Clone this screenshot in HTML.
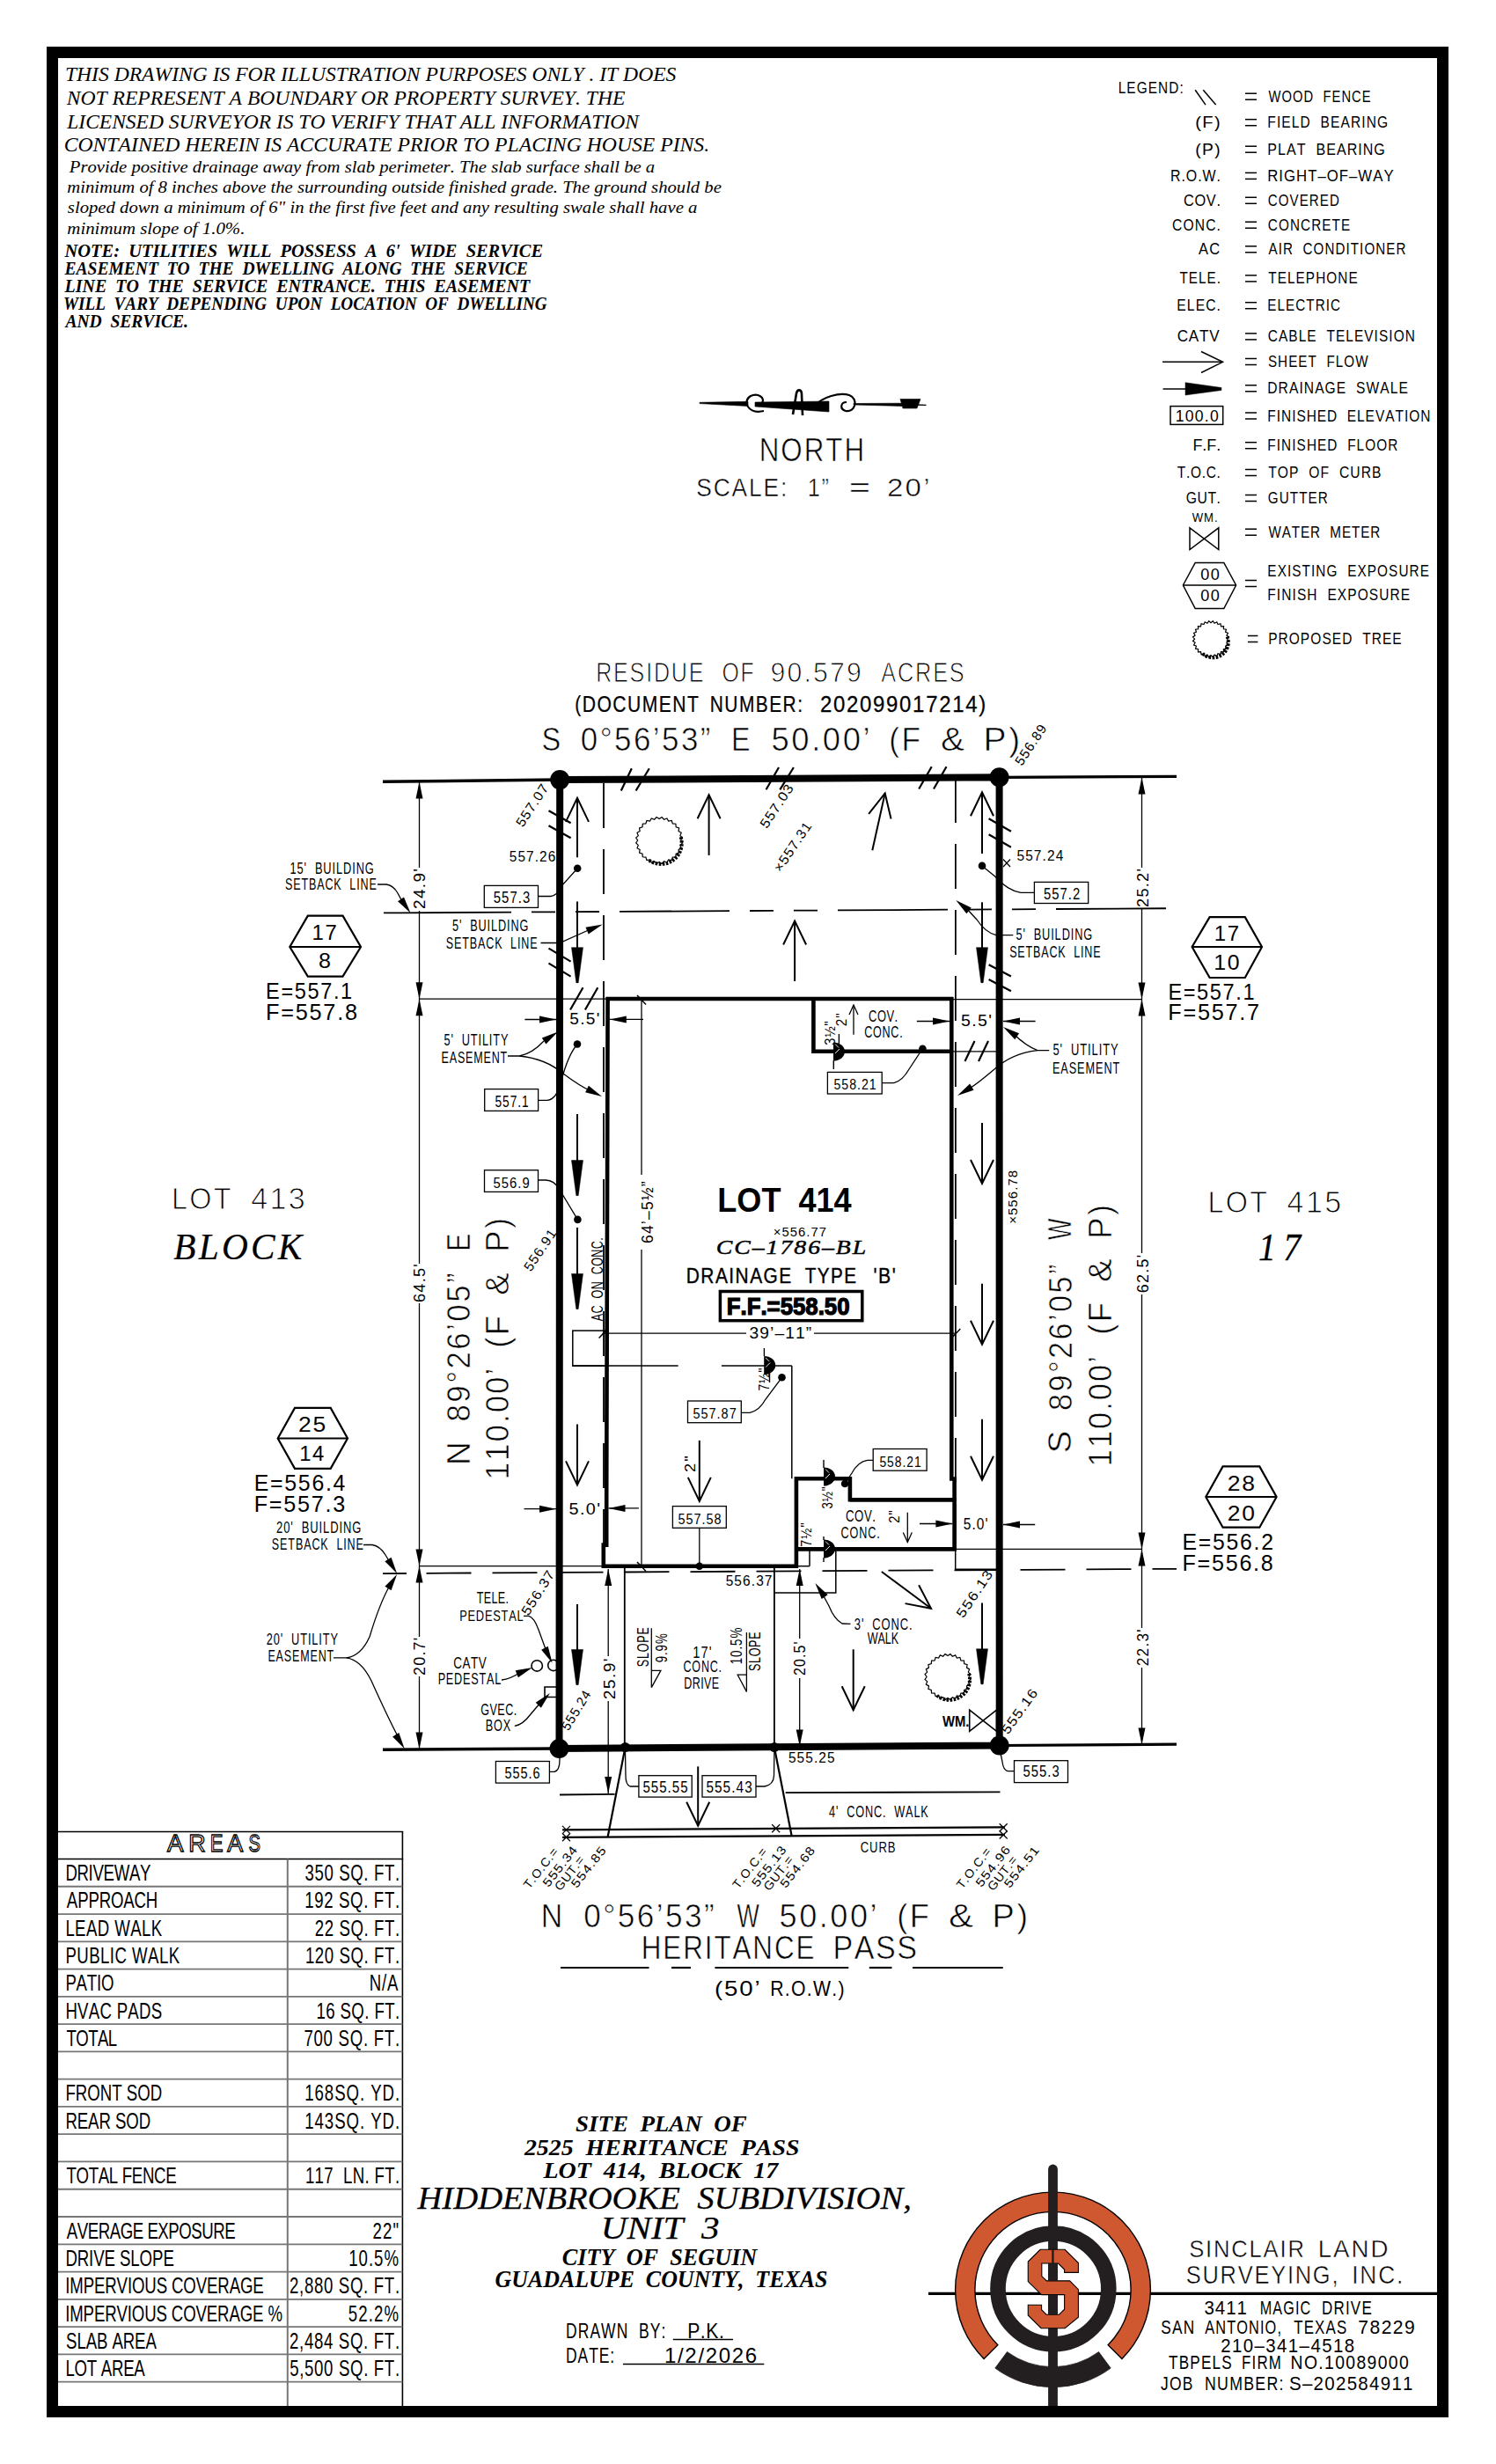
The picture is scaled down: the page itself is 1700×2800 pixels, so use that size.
<!DOCTYPE html>
<html><head><meta charset="utf-8"><title>Site Plan</title>
<style>html,body{margin:0;padding:0;background:#fff;}svg{display:block;}</style>
</head><body>
<svg width="1700" height="2800" viewBox="0 0 1700 2800" stroke-linecap="butt" style="white-space:pre">
<rect x="0" y="0" width="1700" height="2800" fill="#fff"/>
<rect x="59.50" y="59.50" width="1580.00" height="2681.00" stroke="#000" stroke-width="13.00" fill="none"/>
<text x="73.96" y="91.60" font-size="22.90" textLength="694.42" lengthAdjust="spacingAndGlyphs" style='font-family:"Liberation Serif", serif;font-kerning:none;font-style:italic;' fill="#000" >THIS&#160;DRAWING&#160;IS&#160;FOR&#160;ILLUSTRATION&#160;PURPOSES&#160;ONLY&#160;.&#160;IT&#160;DOES</text>
<text x="75.67" y="118.80" font-size="22.90" textLength="634.72" lengthAdjust="spacingAndGlyphs" style='font-family:"Liberation Serif", serif;font-kerning:none;font-style:italic;' fill="#000" >NOT&#160;REPRESENT&#160;A&#160;BOUNDARY&#160;OR&#160;PROPERTY&#160;SURVEY.&#160;THE</text>
<text x="76.28" y="146.10" font-size="22.90" textLength="649.62" lengthAdjust="spacingAndGlyphs" style='font-family:"Liberation Serif", serif;font-kerning:none;font-style:italic;' fill="#000" >LICENSED&#160;SURVEYOR&#160;IS&#160;TO&#160;VERIFY&#160;THAT&#160;ALL&#160;INFORMATION</text>
<text x="72.67" y="171.80" font-size="22.90" textLength="733.49" lengthAdjust="spacingAndGlyphs" style='font-family:"Liberation Serif", serif;font-kerning:none;font-style:italic;' fill="#000" >CONTAINED&#160;HEREIN&#160;IS&#160;ACCURATE&#160;PRIOR&#160;TO&#160;PLACING&#160;HOUSE&#160;PINS.</text>
<text x="78.80" y="195.70" font-size="19.08" textLength="665.38" lengthAdjust="spacingAndGlyphs" style='font-family:"Liberation Serif", serif;font-kerning:none;font-style:italic;' fill="#000" >Provide&#160;positive&#160;drainage&#160;away&#160;from&#160;slab&#160;perimeter.&#160;The&#160;slab&#160;surface&#160;shall&#160;be&#160;a</text>
<text x="76.35" y="219.20" font-size="19.08" textLength="743.53" lengthAdjust="spacingAndGlyphs" style='font-family:"Liberation Serif", serif;font-kerning:none;font-style:italic;' fill="#000" >minimum&#160;of&#160;8&#160;inches&#160;above&#160;the&#160;surrounding&#160;outside&#160;finished&#160;grade.&#160;The&#160;ground&#160;should&#160;be</text>
<text x="76.85" y="242.20" font-size="19.08" textLength="715.55" lengthAdjust="spacingAndGlyphs" style='font-family:"Liberation Serif", serif;font-kerning:none;font-style:italic;' fill="#000" >sloped&#160;down&#160;a&#160;minimum&#160;of&#160;6"&#160;in&#160;the&#160;first&#160;five&#160;feet&#160;and&#160;any&#160;resulting&#160;swale&#160;shall&#160;have&#160;a</text>
<text x="76.35" y="266.30" font-size="19.08" textLength="202.12" lengthAdjust="spacingAndGlyphs" style='font-family:"Liberation Serif", serif;font-kerning:none;font-style:italic;' fill="#000" >minimum&#160;slope&#160;of&#160;1.0%.</text>
<text x="73.59" y="292.40" font-size="20.61" textLength="543.44" lengthAdjust="spacingAndGlyphs" style='font-family:"Liberation Serif", serif;font-kerning:none;font-style:italic;font-weight:bold;' fill="#000" >NOTE:&#160;&#160;UTILITIES&#160;&#160;WILL&#160;&#160;POSSESS&#160;&#160;A&#160;&#160;6'&#160;&#160;WIDE&#160;&#160;SERVICE</text>
<text x="73.54" y="312.30" font-size="20.61" textLength="526.34" lengthAdjust="spacingAndGlyphs" style='font-family:"Liberation Serif", serif;font-kerning:none;font-style:italic;font-weight:bold;' fill="#000" >EASEMENT&#160;&#160;TO&#160;&#160;THE&#160;&#160;DWELLING&#160;&#160;ALONG&#160;&#160;THE&#160;&#160;SERVICE</text>
<text x="73.54" y="332.20" font-size="20.61" textLength="528.59" lengthAdjust="spacingAndGlyphs" style='font-family:"Liberation Serif", serif;font-kerning:none;font-style:italic;font-weight:bold;' fill="#000" >LINE&#160;&#160;TO&#160;&#160;THE&#160;&#160;SERVICE&#160;&#160;ENTRANCE.&#160;&#160;THIS&#160;&#160;EASEMENT</text>
<text x="72.07" y="352.10" font-size="20.61" textLength="549.65" lengthAdjust="spacingAndGlyphs" style='font-family:"Liberation Serif", serif;font-kerning:none;font-style:italic;font-weight:bold;' fill="#000" >WILL&#160;&#160;VARY&#160;&#160;DEPENDING&#160;&#160;UPON&#160;&#160;LOCATION&#160;&#160;OF&#160;&#160;DWELLING</text>
<text x="74.42" y="372.00" font-size="20.61" textLength="139.54" lengthAdjust="spacingAndGlyphs" style='font-family:"Liberation Serif", serif;font-kerning:none;font-style:italic;font-weight:bold;' fill="#000" >AND&#160;&#160;SERVICE.</text>
<text x="-1.49" y="0" font-size="18.17" textLength="87.39" lengthAdjust="spacing" transform="translate(1272.00 106.00) scale(0.8463 1)" style='font-family:"Liberation Sans", sans-serif;font-kerning:none;' fill="#000" >LEGEND:</text>
<line x1="1415.00" y1="106.20" x2="1428.00" y2="106.20" stroke="#000" stroke-width="1.50" /><line x1="1415.00" y1="113.20" x2="1428.00" y2="113.20" stroke="#000" stroke-width="1.50" />
<text x="-0.07" y="0" font-size="18.60" textLength="146.35" lengthAdjust="spacing" transform="translate(1441.60 115.70) scale(0.7932 1)" style='font-family:"Liberation Sans", sans-serif;font-kerning:none;' fill="#000" >WOOD&#160;&#160;FENCE</text>
<line x1="1415.00" y1="135.70" x2="1428.00" y2="135.70" stroke="#000" stroke-width="1.50" /><line x1="1415.00" y1="142.70" x2="1428.00" y2="142.70" stroke="#000" stroke-width="1.50" />
<text x="-1.53" y="0" font-size="18.60" textLength="163.73" lengthAdjust="spacing" transform="translate(1441.60 145.20) scale(0.8351 1)" style='font-family:"Liberation Sans", sans-serif;font-kerning:none;' fill="#000" >FIELD&#160;&#160;BEARING</text>
<text x="-1.15" y="0" font-size="18.60" textLength="26.36" lengthAdjust="spacing" transform="translate(1359.50 145.20) scale(1.0808 1)" style='font-family:"Liberation Sans", sans-serif;font-kerning:none;' fill="#000" >(F)</text>
<line x1="1415.00" y1="166.20" x2="1428.00" y2="166.20" stroke="#000" stroke-width="1.50" /><line x1="1415.00" y1="173.20" x2="1428.00" y2="173.20" stroke="#000" stroke-width="1.50" />
<text x="-1.53" y="0" font-size="18.60" textLength="154.52" lengthAdjust="spacing" transform="translate(1441.60 175.70) scale(0.8647 1)" style='font-family:"Liberation Sans", sans-serif;font-kerning:none;' fill="#000" >PLAT&#160;&#160;BEARING</text>
<text x="-1.15" y="0" font-size="18.60" textLength="27.41" lengthAdjust="spacing" transform="translate(1359.50 175.70) scale(1.0360 1)" style='font-family:"Liberation Sans", sans-serif;font-kerning:none;' fill="#000" >(P)</text>
<line x1="1415.00" y1="196.40" x2="1428.00" y2="196.40" stroke="#000" stroke-width="1.50" /><line x1="1415.00" y1="203.40" x2="1428.00" y2="203.40" stroke="#000" stroke-width="1.50" />
<text x="-1.53" y="0" font-size="18.60" textLength="159.04" lengthAdjust="spacing" transform="translate(1441.60 205.90) scale(0.9014 1)" style='font-family:"Liberation Sans", sans-serif;font-kerning:none;' fill="#000" >RIGHT–OF–WAY</text>
<text x="-1.53" y="0" font-size="18.60" textLength="66.46" lengthAdjust="spacing" transform="translate(1331.30 205.90) scale(0.8571 1)" style='font-family:"Liberation Sans", sans-serif;font-kerning:none;' fill="#000" >R.O.W.</text>
<line x1="1415.00" y1="224.30" x2="1428.00" y2="224.30" stroke="#000" stroke-width="1.50" /><line x1="1415.00" y1="231.30" x2="1428.00" y2="231.30" stroke="#000" stroke-width="1.50" />
<text x="-0.95" y="0" font-size="18.60" textLength="99.82" lengthAdjust="spacing" transform="translate(1441.60 233.80) scale(0.8115 1)" style='font-family:"Liberation Sans", sans-serif;font-kerning:none;' fill="#000" >COVERED</text>
<text x="-0.95" y="0" font-size="18.60" textLength="47.68" lengthAdjust="spacing" transform="translate(1345.90 233.80) scale(0.8792 1)" style='font-family:"Liberation Sans", sans-serif;font-kerning:none;' fill="#000" >COV.</text>
<line x1="1415.00" y1="252.20" x2="1428.00" y2="252.20" stroke="#000" stroke-width="1.50" /><line x1="1415.00" y1="259.20" x2="1428.00" y2="259.20" stroke="#000" stroke-width="1.50" />
<text x="-0.95" y="0" font-size="18.60" textLength="113.51" lengthAdjust="spacing" transform="translate(1441.60 261.70) scale(0.8232 1)" style='font-family:"Liberation Sans", sans-serif;font-kerning:none;' fill="#000" >CONCRETE</text>
<text x="-0.95" y="0" font-size="18.60" textLength="65.16" lengthAdjust="spacing" transform="translate(1332.90 261.70) scale(0.8414 1)" style='font-family:"Liberation Sans", sans-serif;font-kerning:none;' fill="#000" >CONC.</text>
<line x1="1415.00" y1="279.80" x2="1428.00" y2="279.80" stroke="#000" stroke-width="1.50" /><line x1="1415.00" y1="286.80" x2="1428.00" y2="286.80" stroke="#000" stroke-width="1.50" />
<text x="-0.04" y="0" font-size="18.60" textLength="191.12" lengthAdjust="spacing" transform="translate(1441.60 289.30) scale(0.8153 1)" style='font-family:"Liberation Sans", sans-serif;font-kerning:none;' fill="#000" >AIR&#160;&#160;CONDITIONER</text>
<text x="-0.04" y="0" font-size="18.60" textLength="27.15" lengthAdjust="spacing" transform="translate(1362.10 289.30) scale(0.8864 1)" style='font-family:"Liberation Sans", sans-serif;font-kerning:none;' fill="#000" >AC</text>
<line x1="1415.00" y1="312.90" x2="1428.00" y2="312.90" stroke="#000" stroke-width="1.50" /><line x1="1415.00" y1="319.90" x2="1428.00" y2="319.90" stroke="#000" stroke-width="1.50" />
<text x="-0.41" y="0" font-size="18.60" textLength="123.11" lengthAdjust="spacing" transform="translate(1441.60 322.40) scale(0.8236 1)" style='font-family:"Liberation Sans", sans-serif;font-kerning:none;' fill="#000" >TELEPHONE</text>
<text x="-0.41" y="0" font-size="18.60" textLength="56.91" lengthAdjust="spacing" transform="translate(1340.70 322.40) scale(0.8174 1)" style='font-family:"Liberation Sans", sans-serif;font-kerning:none;' fill="#000" >TELE.</text>
<line x1="1415.00" y1="343.70" x2="1428.00" y2="343.70" stroke="#000" stroke-width="1.50" /><line x1="1415.00" y1="350.70" x2="1428.00" y2="350.70" stroke="#000" stroke-width="1.50" />
<text x="-1.53" y="0" font-size="18.60" textLength="101.12" lengthAdjust="spacing" transform="translate(1441.60 353.20) scale(0.8171 1)" style='font-family:"Liberation Sans", sans-serif;font-kerning:none;' fill="#000" >ELECTRIC</text>
<text x="-1.53" y="0" font-size="18.60" textLength="58.98" lengthAdjust="spacing" transform="translate(1338.60 353.20) scale(0.8411 1)" style='font-family:"Liberation Sans", sans-serif;font-kerning:none;' fill="#000" >ELEC.</text>
<line x1="1415.00" y1="378.90" x2="1428.00" y2="378.90" stroke="#000" stroke-width="1.50" /><line x1="1415.00" y1="385.90" x2="1428.00" y2="385.90" stroke="#000" stroke-width="1.50" />
<text x="-0.95" y="0" font-size="18.60" textLength="201.44" lengthAdjust="spacing" transform="translate(1441.60 388.40) scale(0.8292 1)" style='font-family:"Liberation Sans", sans-serif;font-kerning:none;' fill="#000" >CABLE&#160;&#160;TELEVISION</text>
<text x="-0.95" y="0" font-size="18.60" textLength="52.15" lengthAdjust="spacing" transform="translate(1338.60 388.40) scale(0.9177 1)" style='font-family:"Liberation Sans", sans-serif;font-kerning:none;' fill="#000" >CATV</text>
<line x1="1415.00" y1="407.50" x2="1428.00" y2="407.50" stroke="#000" stroke-width="1.50" /><line x1="1415.00" y1="414.50" x2="1428.00" y2="414.50" stroke="#000" stroke-width="1.50" />
<text x="-0.84" y="0" font-size="18.60" textLength="138.80" lengthAdjust="spacing" transform="translate(1441.60 417.00) scale(0.8188 1)" style='font-family:"Liberation Sans", sans-serif;font-kerning:none;' fill="#000" >SHEET&#160;&#160;FLOW</text>
<line x1="1415.00" y1="437.80" x2="1428.00" y2="437.80" stroke="#000" stroke-width="1.50" /><line x1="1415.00" y1="444.80" x2="1428.00" y2="444.80" stroke="#000" stroke-width="1.50" />
<text x="-1.53" y="0" font-size="18.60" textLength="190.19" lengthAdjust="spacing" transform="translate(1441.60 447.30) scale(0.8394 1)" style='font-family:"Liberation Sans", sans-serif;font-kerning:none;' fill="#000" >DRAINAGE&#160;&#160;SWALE</text>
<line x1="1415.00" y1="469.00" x2="1428.00" y2="469.00" stroke="#000" stroke-width="1.50" /><line x1="1415.00" y1="476.00" x2="1428.00" y2="476.00" stroke="#000" stroke-width="1.50" />
<text x="-1.53" y="0" font-size="18.60" textLength="222.27" lengthAdjust="spacing" transform="translate(1441.60 478.50) scale(0.8324 1)" style='font-family:"Liberation Sans", sans-serif;font-kerning:none;' fill="#000" >FINISHED&#160;&#160;ELEVATION</text>
<line x1="1415.00" y1="502.70" x2="1428.00" y2="502.70" stroke="#000" stroke-width="1.50" /><line x1="1415.00" y1="509.70" x2="1428.00" y2="509.70" stroke="#000" stroke-width="1.50" />
<text x="-1.53" y="0" font-size="18.60" textLength="179.49" lengthAdjust="spacing" transform="translate(1441.60 512.20) scale(0.8244 1)" style='font-family:"Liberation Sans", sans-serif;font-kerning:none;' fill="#000" >FINISHED&#160;&#160;FLOOR</text>
<text x="-1.53" y="0" font-size="18.60" textLength="32.85" lengthAdjust="spacing" transform="translate(1356.90 512.20) scale(0.9650 1)" style='font-family:"Liberation Sans", sans-serif;font-kerning:none;' fill="#000" >F.F.</text>
<line x1="1415.00" y1="533.50" x2="1428.00" y2="533.50" stroke="#000" stroke-width="1.50" /><line x1="1415.00" y1="540.50" x2="1428.00" y2="540.50" stroke="#000" stroke-width="1.50" />
<text x="-0.41" y="0" font-size="18.60" textLength="152.43" lengthAdjust="spacing" transform="translate(1441.60 543.00) scale(0.8409 1)" style='font-family:"Liberation Sans", sans-serif;font-kerning:none;' fill="#000" >TOP&#160;&#160;OF&#160;&#160;CURB</text>
<text x="-0.41" y="0" font-size="18.60" textLength="59.23" lengthAdjust="spacing" transform="translate(1338.10 543.00) scale(0.8296 1)" style='font-family:"Liberation Sans", sans-serif;font-kerning:none;' fill="#000" >T.O.C.</text>
<line x1="1415.00" y1="562.50" x2="1428.00" y2="562.50" stroke="#000" stroke-width="1.50" /><line x1="1415.00" y1="569.50" x2="1428.00" y2="569.50" stroke="#000" stroke-width="1.50" />
<text x="-0.93" y="0" font-size="18.60" textLength="82.99" lengthAdjust="spacing" transform="translate(1441.60 572.00) scale(0.8189 1)" style='font-family:"Liberation Sans", sans-serif;font-kerning:none;' fill="#000" >GUTTER</text>
<text x="-0.93" y="0" font-size="18.60" textLength="46.29" lengthAdjust="spacing" transform="translate(1348.50 572.00) scale(0.8474 1)" style='font-family:"Liberation Sans", sans-serif;font-kerning:none;' fill="#000" >GUT.</text>
<line x1="1415.00" y1="601.20" x2="1428.00" y2="601.20" stroke="#000" stroke-width="1.50" /><line x1="1415.00" y1="608.20" x2="1428.00" y2="608.20" stroke="#000" stroke-width="1.50" />
<text x="-0.07" y="0" font-size="18.60" textLength="154.89" lengthAdjust="spacing" transform="translate(1441.60 610.70) scale(0.8178 1)" style='font-family:"Liberation Sans", sans-serif;font-kerning:none;' fill="#000" >WATER&#160;&#160;METER</text>
<line x1="1358.20" y1="102.20" x2="1370.00" y2="119.10" stroke="#000" stroke-width="1.50" />
<line x1="1367.30" y1="102.20" x2="1381.60" y2="119.10" stroke="#000" stroke-width="1.50" />
<line x1="1321.00" y1="411.30" x2="1389.50" y2="411.30" stroke="#000" stroke-width="1.50" />
<path d="M1365.00 399.50 L1389.50 411.30 L1365.00 423.50" stroke="#000" stroke-width="1.50" fill="none" stroke-linejoin="miter" />
<line x1="1321.60" y1="442.00" x2="1388.00" y2="442.00" stroke="#000" stroke-width="1.50" />
<path d="M1347.00 434.70 L1388.00 440.50 L1388.00 443.50 L1347.00 449.00 Z" stroke="#000" stroke-width="0.50" fill="#000" stroke-linejoin="miter" />
<rect x="1330.00" y="461.60" width="59.70" height="20.80" stroke="#000" stroke-width="1.50" fill="none"/>
<text x="-1.38" y="0" font-size="18.17" textLength="50.55" lengthAdjust="spacing" transform="translate(1337.00 478.50) scale(0.9700 1)" style='font-family:"Liberation Sans", sans-serif;font-kerning:none;' fill="#000" >100.0</text>
<text x="-0.06" y="0" font-size="15.12" textLength="33.18" lengthAdjust="spacing" transform="translate(1354.80 592.50) scale(0.8695 1)" style='font-family:"Liberation Sans", sans-serif;font-kerning:none;' fill="#000" >WM.</text>
<path d="M1352.00 599.80 L1384.80 624.50 L1384.80 599.80 L1352.00 624.50 Z" stroke="#000" stroke-width="1.50" fill="none" stroke-linejoin="miter" />
<path d="M1344.40 665.00 L1358.20 639.40 L1390.80 639.40 L1404.60 665.00 L1390.80 691.50 L1358.20 691.50 Z" stroke="#000" stroke-width="1.50" fill="none" stroke-linejoin="miter" />
<line x1="1344.40" y1="665.00" x2="1404.60" y2="665.00" stroke="#000" stroke-width="1.50" />
<text x="-0.71" y="0" font-size="18.17" textLength="21.48" lengthAdjust="spacing" transform="translate(1365.00 659.00) scale(0.9971 1)" style='font-family:"Liberation Sans", sans-serif;font-kerning:none;' fill="#000" >00</text>
<text x="-0.71" y="0" font-size="18.17" textLength="21.48" lengthAdjust="spacing" transform="translate(1365.00 683.20) scale(0.9971 1)" style='font-family:"Liberation Sans", sans-serif;font-kerning:none;' fill="#000" >00</text>
<line x1="1415.00" y1="659.50" x2="1428.00" y2="659.50" stroke="#000" stroke-width="1.50" /><line x1="1415.00" y1="666.50" x2="1428.00" y2="666.50" stroke="#000" stroke-width="1.50" />
<text x="-1.53" y="0" font-size="18.60" textLength="222.70" lengthAdjust="spacing" transform="translate(1441.60 655.00) scale(0.8245 1)" style='font-family:"Liberation Sans", sans-serif;font-kerning:none;' fill="#000" >EXISTING&#160;&#160;EXPOSURE</text>
<text x="-1.53" y="0" font-size="18.60" textLength="194.25" lengthAdjust="spacing" transform="translate(1441.60 681.60) scale(0.8326 1)" style='font-family:"Liberation Sans", sans-serif;font-kerning:none;' fill="#000" >FINISH&#160;&#160;EXPOSURE</text>
<line x1="1418.00" y1="722.50" x2="1429.40" y2="722.50" stroke="#000" stroke-width="1.50" /><line x1="1418.00" y1="729.50" x2="1429.40" y2="729.50" stroke="#000" stroke-width="1.50" />
<text x="-1.53" y="0" font-size="18.60" textLength="182.00" lengthAdjust="spacing" transform="translate(1442.40 732.00) scale(0.8326 1)" style='font-family:"Liberation Sans", sans-serif;font-kerning:none;' fill="#000" >PROPOSED&#160;&#160;TREE</text>
<path d="M795.00 457.30 L850.00 456.30 L850.00 461.50 L795.00 458.60 Z" stroke="#000" stroke-width="0.60" fill="#000" stroke-linejoin="miter" />
<path d="M858.00 457.00 L942.00 456.00 L942.00 468.00 L858.00 462.00 Z" stroke="#000" stroke-width="0.60" fill="#000" stroke-linejoin="miter" />
<path d="M868 467 C850 471 843 456 853 450 C861 446 870 452 866 458" stroke="#000" stroke-width="2.20" fill="none" />
<path d="M901 471 L905 447 C906 442 911 442 911 448 L912 472" stroke="#000" stroke-width="2.60" fill="none" />
<path d="M924 463 C934 450 955 446 965 449 C976 453 972 469 961 467 C954 465 955 457 962 457" stroke="#000" stroke-width="2.20" fill="none" />
<path d="M970.00 458.50 L1025.00 458.20 L1025.00 461.50 L970.00 460.00 Z" stroke="#000" stroke-width="0.60" fill="#000" stroke-linejoin="miter" />
<path d="M1023.00 453.50 L1046.00 453.50 L1042.00 464.00 L1026.00 464.00 Z" stroke="#000" stroke-width="0.60" fill="#000" stroke-linejoin="miter" />
<line x1="1040.00" y1="460.00" x2="1052.50" y2="460.30" stroke="#000" stroke-width="1.30" />
<text x="-2.96" y="0" font-size="36.05" textLength="137.59" lengthAdjust="spacing" transform="translate(865.20 524.40) scale(0.8685 1)" style='font-family:"Liberation Sans", sans-serif;font-kerning:none;' fill="#000" stroke="#fff" stroke-width="0.62" >NORTH</text>
<text x="-1.35" y="0" font-size="30.09" textLength="117.56" lengthAdjust="spacing" transform="translate(792.50 564.40) scale(0.8761 1)" style='font-family:"Liberation Sans", sans-serif;font-kerning:none;' fill="#000" stroke="#fff" stroke-width="0.52" >SCALE:</text><text x="-2.29" y="0" font-size="30.09" textLength="28.86" lengthAdjust="spacing" transform="translate(919.70 564.40) scale(0.8407 1)" style='font-family:"Liberation Sans", sans-serif;font-kerning:none;' fill="#000" stroke="#fff" stroke-width="0.52" >1”</text><text x="964.75" y="564.40" font-size="30.09" textLength="24.39" lengthAdjust="spacingAndGlyphs" style='font-family:"Liberation Sans", sans-serif;font-kerning:none;' fill="#000" stroke="#fff" stroke-width="0.52" >=</text><text x="-1.50" y="0" font-size="30.09" textLength="44.36" lengthAdjust="spacing" transform="translate(1009.60 564.40) scale(1.0957 1)" style='font-family:"Liberation Sans", sans-serif;font-kerning:none;' fill="#000" stroke="#fff" stroke-width="0.52" >20’</text>
<text x="-2.50" y="0" font-size="30.52" textLength="148.51" lengthAdjust="spacing" transform="translate(679.20 775.10) scale(0.8246 1)" style='font-family:"Liberation Sans", sans-serif;font-kerning:none;' fill="#000" stroke="#fff" stroke-width="0.90" >RESIDUE</text><text x="-1.43" y="0" font-size="30.52" textLength="44.52" lengthAdjust="spacing" transform="translate(821.60 775.10) scale(0.8143 1)" style='font-family:"Liberation Sans", sans-serif;font-kerning:none;' fill="#000" stroke="#fff" stroke-width="0.90" >OF</text><text x="-1.43" y="0" font-size="30.52" textLength="104.04" lengthAdjust="spacing" transform="translate(877.00 775.10) scale(0.9916 1)" style='font-family:"Liberation Sans", sans-serif;font-kerning:none;' fill="#000" stroke="#fff" stroke-width="0.90" >90.579</text><text x="-0.06" y="0" font-size="30.52" textLength="113.71" lengthAdjust="spacing" transform="translate(1001.40 775.10) scale(0.8304 1)" style='font-family:"Liberation Sans", sans-serif;font-kerning:none;' fill="#000" stroke="#fff" stroke-width="0.90" >ACRES</text>
<text x="-1.62" y="0" font-size="26.16" textLength="174.52" lengthAdjust="spacing" transform="translate(654.50 808.80) scale(0.8067 1)" style='font-family:"Liberation Sans", sans-serif;font-kerning:none;' fill="#000" stroke="#000" stroke-width="0.25" >(DOCUMENT</text><text x="-2.15" y="0" font-size="26.16" textLength="131.63" lengthAdjust="spacing" transform="translate(808.50 808.80) scale(0.7992 1)" style='font-family:"Liberation Sans", sans-serif;font-kerning:none;' fill="#000" stroke="#000" stroke-width="0.25" >NUMBER:</text><text x="-1.31" y="0" font-size="26.16" textLength="205.30" lengthAdjust="spacing" transform="translate(933.20 808.80) scale(0.9166 1)" style='font-family:"Liberation Sans", sans-serif;font-kerning:none;' fill="#000" stroke="#000" stroke-width="0.25" >202099017214)</text>
<text x="615.54" y="853.30" font-size="36.34" textLength="21.65" lengthAdjust="spacingAndGlyphs" style='font-family:"Liberation Sans", sans-serif;font-kerning:none;' fill="#000" stroke="#fff" stroke-width="0.62" >S</text><text x="-1.42" y="0" font-size="36.34" textLength="153.56" lengthAdjust="spacing" transform="translate(661.20 853.30) scale(0.9609 1)" style='font-family:"Liberation Sans", sans-serif;font-kerning:none;' fill="#000" stroke="#fff" stroke-width="0.62" >0°56’53”</text><text x="830.95" y="853.30" font-size="36.34" textLength="21.54" lengthAdjust="spacingAndGlyphs" style='font-family:"Liberation Sans", sans-serif;font-kerning:none;' fill="#000" stroke="#fff" stroke-width="0.62" >E</text><text x="-1.45" y="0" font-size="36.34" textLength="111.72" lengthAdjust="spacing" transform="translate(878.00 853.30) scale(1.0028 1)" style='font-family:"Liberation Sans", sans-serif;font-kerning:none;' fill="#000" stroke="#fff" stroke-width="0.62" >50.00’</text><text x="-2.25" y="0" font-size="36.34" textLength="36.84" lengthAdjust="spacing" transform="translate(1012.40 853.30) scale(0.9686 1)" style='font-family:"Liberation Sans", sans-serif;font-kerning:none;' fill="#000" stroke="#fff" stroke-width="0.62" >(F</text><text x="1069.07" y="853.30" font-size="36.34" textLength="27.18" lengthAdjust="spacingAndGlyphs" style='font-family:"Liberation Sans", sans-serif;font-kerning:none;' fill="#000" stroke="#fff" stroke-width="0.62" >&amp;</text><text x="-2.98" y="0" font-size="36.34" textLength="38.88" lengthAdjust="spacing" transform="translate(1120.70 853.30) scale(1.0729 1)" style='font-family:"Liberation Sans", sans-serif;font-kerning:none;' fill="#000" stroke="#fff" stroke-width="0.62" >P)</text>
<line x1="435.00" y1="888.20" x2="636.20" y2="886.10" stroke="#000" stroke-width="3.50" />
<line x1="1135.60" y1="883.30" x2="1337.00" y2="882.40" stroke="#000" stroke-width="3.20" />
<line x1="435.00" y1="1988.20" x2="635.50" y2="1987.00" stroke="#000" stroke-width="3.50" />
<line x1="1135.70" y1="1983.50" x2="1337.00" y2="1982.20" stroke="#000" stroke-width="3.20" />
<line x1="436.00" y1="1037.40" x2="456.00" y2="1037.30" stroke="#000" stroke-width="1.80" />
<line x1="456.00" y1="1037.30" x2="1337.00" y2="1032.20" stroke="#000" stroke-width="1.80" stroke-dasharray="125 23 27 23 27 23"/>
<line x1="435.00" y1="1788.10" x2="462.00" y2="1788.00" stroke="#000" stroke-width="1.80" />
<line x1="484.50" y1="1787.80" x2="1337.00" y2="1782.80" stroke="#000" stroke-width="1.80" stroke-dasharray="51 24"/>
<line x1="686.00" y1="890.00" x2="686.00" y2="1785.00" stroke="#000" stroke-width="1.80" stroke-dasharray="51 24"/>
<line x1="1085.90" y1="887.00" x2="1085.90" y2="1760.00" stroke="#000" stroke-width="1.80" stroke-dasharray="51 24" stroke-dashoffset="3"/>
<path d="M690.60 1135.00 L1081.30 1135.00 L1081.30 1680.50 L1084.60 1680.50 L1084.60 1704.30 L965.90 1704.30 L965.90 1680.20 L904.90 1680.20 L904.90 1779.70 L685.80 1779.70 L685.80 1755.60 L689.20 1755.60 L689.20 1700.00 L690.60 1135.00 Z" stroke="#000" stroke-width="4.60" fill="none" stroke-linejoin="miter" />
<path d="M965.90 1704.30 L1084.60 1704.30 L1084.60 1760.40 L904.90 1760.40" stroke="#000" stroke-width="4.60" fill="none" stroke-linejoin="miter" />
<path d="M924.40 1135.00 L924.40 1194.80 L1081.30 1194.80" stroke="#000" stroke-width="4.60" fill="none" stroke-linejoin="miter" />
<line x1="650.80" y1="1552.10" x2="770.70" y2="1552.10" stroke="#000" stroke-width="1.50" />
<line x1="819.90" y1="1552.10" x2="899.80" y2="1552.10" stroke="#000" stroke-width="1.50" />
<line x1="899.80" y1="1552.10" x2="899.80" y2="1680.20" stroke="#000" stroke-width="1.50" />
<rect x="650.80" y="1512.10" width="39.80" height="40.00" stroke="#000" stroke-width="1.50" fill="none"/>
<line x1="729.00" y1="1135.00" x2="729.00" y2="1335.00" stroke="#000" stroke-width="1.30" />
<line x1="729.00" y1="1420.00" x2="729.00" y2="1779.70" stroke="#000" stroke-width="1.30" />
<line x1="724.00" y1="1131.00" x2="734.00" y2="1141.50" stroke="#000" stroke-width="1.50" />
<line x1="724.00" y1="1775.00" x2="734.00" y2="1785.40" stroke="#000" stroke-width="1.50" />
<text x="-0.93" y="0" font-size="18.17" textLength="73.29" lengthAdjust="spacing" transform="translate(742.00 1412.20) rotate(-90.00) scale(0.9652 1)" style='font-family:"Liberation Sans", sans-serif;font-kerning:none;' fill="#000" >64’–5½”</text>
<line x1="684.60" y1="1515.20" x2="848.00" y2="1515.20" stroke="#000" stroke-width="1.30" />
<line x1="925.00" y1="1515.20" x2="1085.50" y2="1515.20" stroke="#000" stroke-width="1.30" />
<line x1="680.60" y1="1520.50" x2="690.60" y2="1510.00" stroke="#000" stroke-width="1.50" />
<line x1="1081.30" y1="1520.50" x2="1091.30" y2="1510.00" stroke="#000" stroke-width="1.50" />
<text x="-0.69" y="0" font-size="18.17" textLength="66.89" lengthAdjust="spacing" transform="translate(852.20 1521.30) scale(1.0559 1)" style='font-family:"Liberation Sans", sans-serif;font-kerning:none;' fill="#000" >39’–11”</text>
<text x="-0.03" y="0" font-size="17.44" textLength="131.89" lengthAdjust="spacing" transform="translate(684.60 1501.30) rotate(-90.00) scale(0.7200 1)" style='font-family:"Liberation Sans", sans-serif;font-kerning:none;' fill="#000" >AC&#160;&#160;ON&#160;&#160;CONC.</text>
<line x1="920.00" y1="1760.40" x2="920.00" y2="1779.70" stroke="#000" stroke-width="1.50" />
<line x1="920.00" y1="1779.70" x2="904.90" y2="1779.70" stroke="#000" stroke-width="1.50" />
<path d="M949.80 1760.40 L949.80 1810.10 L879.90 1810.10" stroke="#000" stroke-width="1.50" fill="none" stroke-linejoin="miter" />
<path d="M1085.70 1760.40 L1085.70 1783.30 L1135.70 1783.30" stroke="#000" stroke-width="1.50" fill="none" stroke-linejoin="miter" />
<line x1="709.80" y1="1779.70" x2="709.80" y2="1985.50" stroke="#000" stroke-width="1.80" />
<line x1="879.90" y1="1779.70" x2="879.90" y2="1985.50" stroke="#000" stroke-width="1.80" />
<line x1="710.50" y1="1985.50" x2="690.50" y2="2088.00" stroke="#000" stroke-width="2.20" />
<line x1="879.90" y1="1985.50" x2="899.80" y2="2087.00" stroke="#000" stroke-width="2.20" />
<line x1="636.00" y1="2039.50" x2="698.60" y2="2038.80" stroke="#000" stroke-width="1.80" />
<line x1="892.70" y1="2037.20" x2="1136.50" y2="2036.30" stroke="#000" stroke-width="1.80" />
<line x1="639.10" y1="2079.30" x2="1141.80" y2="2076.30" stroke="#000" stroke-width="2.20" />
<line x1="639.10" y1="2087.80" x2="1141.80" y2="2084.80" stroke="#000" stroke-width="2.20" />
<line x1="639.00" y1="2074.90" x2="648.00" y2="2083.90" stroke="#000" stroke-width="1.30" />
<line x1="639.00" y1="2083.90" x2="648.00" y2="2074.90" stroke="#000" stroke-width="1.30" />
<line x1="639.00" y1="2083.30" x2="648.00" y2="2092.30" stroke="#000" stroke-width="1.30" />
<line x1="639.00" y1="2092.30" x2="648.00" y2="2083.30" stroke="#000" stroke-width="1.30" />
<line x1="877.20" y1="2073.30" x2="886.20" y2="2082.30" stroke="#000" stroke-width="1.30" />
<line x1="877.20" y1="2082.30" x2="886.20" y2="2073.30" stroke="#000" stroke-width="1.30" />
<line x1="1135.70" y1="2072.30" x2="1144.70" y2="2081.30" stroke="#000" stroke-width="1.30" />
<line x1="1135.70" y1="2081.30" x2="1144.70" y2="2072.30" stroke="#000" stroke-width="1.30" />
<line x1="1135.70" y1="2080.50" x2="1144.70" y2="2089.50" stroke="#000" stroke-width="1.30" />
<line x1="1135.70" y1="2089.50" x2="1144.70" y2="2080.50" stroke="#000" stroke-width="1.30" />
<line x1="476.50" y1="1135.20" x2="690.60" y2="1135.20" stroke="#000" stroke-width="1.30" />
<line x1="476.50" y1="1779.60" x2="685.80" y2="1779.60" stroke="#000" stroke-width="1.30" />
<line x1="1081.30" y1="1135.60" x2="1297.50" y2="1135.60" stroke="#000" stroke-width="1.30" />
<line x1="1084.60" y1="1760.40" x2="1297.50" y2="1760.40" stroke="#000" stroke-width="1.30" />
<line x1="1081.30" y1="1194.80" x2="1136.00" y2="1194.80" stroke="#000" stroke-width="1.30" />
<path d="M636.20 886.10 L1135.60 883.30 L1135.70 1983.50 L635.50 1987.00 Z" stroke="#000" stroke-width="8.00" fill="none" stroke-linejoin="miter" />
<circle cx="636.20" cy="886.10" r="11.00" fill="#000"/>
<circle cx="1135.60" cy="883.30" r="11.00" fill="#000"/>
<circle cx="635.50" cy="1987.00" r="11.00" fill="#000"/>
<circle cx="1135.70" cy="1983.50" r="11.00" fill="#000"/>
<line x1="705.80" y1="898.50" x2="717.80" y2="873.20" stroke="#000" stroke-width="2.20" />
<line x1="722.60" y1="898.50" x2="737.80" y2="873.20" stroke="#000" stroke-width="2.20" />
<line x1="870.60" y1="897.30" x2="885.00" y2="872.00" stroke="#000" stroke-width="2.20" />
<line x1="886.30" y1="897.30" x2="901.90" y2="872.00" stroke="#000" stroke-width="2.20" />
<line x1="1044.20" y1="896.50" x2="1058.70" y2="871.30" stroke="#000" stroke-width="2.20" />
<line x1="1061.00" y1="896.50" x2="1075.50" y2="871.30" stroke="#000" stroke-width="2.20" />
<line x1="648.00" y1="1147.50" x2="662.50" y2="1122.30" stroke="#000" stroke-width="2.20" />
<line x1="664.90" y1="1147.50" x2="679.30" y2="1122.30" stroke="#000" stroke-width="2.20" />
<line x1="1096.50" y1="1206.00" x2="1107.50" y2="1183.00" stroke="#000" stroke-width="2.20" />
<line x1="1112.00" y1="1206.00" x2="1123.00" y2="1183.00" stroke="#000" stroke-width="2.20" />
<line x1="623.50" y1="921.20" x2="648.60" y2="935.20" stroke="#000" stroke-width="2.20" />
<line x1="623.50" y1="938.20" x2="648.60" y2="952.20" stroke="#000" stroke-width="2.20" />
<line x1="623.50" y1="1077.60" x2="648.60" y2="1092.60" stroke="#000" stroke-width="2.20" />
<line x1="623.50" y1="1094.60" x2="648.60" y2="1109.60" stroke="#000" stroke-width="2.20" />
<line x1="1123.60" y1="930.20" x2="1148.90" y2="944.70" stroke="#000" stroke-width="2.20" />
<line x1="1123.60" y1="948.30" x2="1148.90" y2="962.70" stroke="#000" stroke-width="2.20" />
<line x1="1123.60" y1="1096.30" x2="1148.90" y2="1109.50" stroke="#000" stroke-width="2.20" />
<line x1="1123.60" y1="1113.10" x2="1148.90" y2="1126.30" stroke="#000" stroke-width="2.20" />
<line x1="476.50" y1="888.00" x2="476.50" y2="986.00" stroke="#000" stroke-width="1.30" />
<line x1="476.50" y1="1035.00" x2="476.50" y2="1436.00" stroke="#000" stroke-width="1.30" />
<line x1="476.50" y1="1481.00" x2="476.50" y2="1860.00" stroke="#000" stroke-width="1.30" />
<line x1="476.50" y1="1905.00" x2="476.50" y2="1988.00" stroke="#000" stroke-width="1.30" />
<path d="M476.50 888.50 L480.50 907.50 L472.50 907.50 Z" fill="#000"/>
<path d="M476.50 1135.20 L472.50 1116.20 L480.50 1116.20 Z" fill="#000"/>
<path d="M476.50 1135.20 L480.50 1154.20 L472.50 1154.20 Z" fill="#000"/>
<path d="M476.50 1779.60 L472.50 1760.60 L480.50 1760.60 Z" fill="#000"/>
<path d="M476.50 1779.60 L480.50 1798.60 L472.50 1798.60 Z" fill="#000"/>
<path d="M476.50 1987.50 L472.50 1968.50 L480.50 1968.50 Z" fill="#000"/>
<text x="-0.91" y="0" font-size="18.17" textLength="43.92" lengthAdjust="spacing" transform="translate(483.00 1032.00) rotate(-90.00) scale(1.0452 1)" style='font-family:"Liberation Sans", sans-serif;font-kerning:none;' fill="#000" >24.9'</text>
<text x="-0.93" y="0" font-size="18.17" textLength="43.92" lengthAdjust="spacing" transform="translate(483.00 1479.00) rotate(-90.00) scale(0.9934 1)" style='font-family:"Liberation Sans", sans-serif;font-kerning:none;' fill="#000" >64.5'</text>
<text x="-0.91" y="0" font-size="18.17" textLength="43.92" lengthAdjust="spacing" transform="translate(483.20 1903.10) rotate(-90.00) scale(0.9835 1)" style='font-family:"Liberation Sans", sans-serif;font-kerning:none;' fill="#000" >20.7'</text>
<line x1="1297.50" y1="883.00" x2="1297.50" y2="986.00" stroke="#000" stroke-width="1.30" />
<line x1="1297.50" y1="1033.00" x2="1297.50" y2="1424.00" stroke="#000" stroke-width="1.30" />
<line x1="1297.50" y1="1471.00" x2="1297.50" y2="1850.00" stroke="#000" stroke-width="1.30" />
<line x1="1297.50" y1="1895.00" x2="1297.50" y2="1982.50" stroke="#000" stroke-width="1.30" />
<path d="M1297.50 883.50 L1301.50 902.50 L1293.50 902.50 Z" fill="#000"/>
<path d="M1297.50 1135.60 L1293.50 1116.60 L1301.50 1116.60 Z" fill="#000"/>
<path d="M1297.50 1135.60 L1301.50 1154.60 L1293.50 1154.60 Z" fill="#000"/>
<path d="M1297.50 1760.40 L1293.50 1741.40 L1301.50 1741.40 Z" fill="#000"/>
<path d="M1297.50 1760.40 L1301.50 1779.40 L1293.50 1779.40 Z" fill="#000"/>
<path d="M1297.50 1982.50 L1293.50 1963.50 L1301.50 1963.50 Z" fill="#000"/>
<text x="-0.94" y="0" font-size="18.90" textLength="45.67" lengthAdjust="spacing" transform="translate(1304.60 1030.00) rotate(-90.00) scale(0.9593 1)" style='font-family:"Liberation Sans", sans-serif;font-kerning:none;' fill="#000" >25.2'</text>
<text x="-0.93" y="0" font-size="18.17" textLength="43.92" lengthAdjust="spacing" transform="translate(1304.60 1468.40) rotate(-90.00) scale(0.9910 1)" style='font-family:"Liberation Sans", sans-serif;font-kerning:none;' fill="#000" >62.5'</text>
<text x="-0.94" y="0" font-size="18.90" textLength="45.67" lengthAdjust="spacing" transform="translate(1305.00 1892.40) rotate(-90.00) scale(0.9159 1)" style='font-family:"Liberation Sans", sans-serif;font-kerning:none;' fill="#000" >22.3'</text>
<line x1="691.20" y1="1782.90" x2="691.20" y2="1882.00" stroke="#000" stroke-width="1.30" />
<line x1="691.20" y1="1933.00" x2="691.20" y2="2038.00" stroke="#000" stroke-width="1.30" />
<path d="M691.20 1782.90 L695.20 1801.90 L687.20 1801.90 Z" fill="#000"/>
<path d="M691.20 2038.00 L687.20 2019.00 L695.20 2019.00 Z" fill="#000"/>
<text x="-0.91" y="0" font-size="18.17" textLength="43.92" lengthAdjust="spacing" transform="translate(698.60 1930.40) rotate(-90.00) scale(1.0666 1)" style='font-family:"Liberation Sans", sans-serif;font-kerning:none;' fill="#000" >25.9'</text>
<line x1="908.70" y1="1782.90" x2="908.70" y2="1862.00" stroke="#000" stroke-width="1.30" />
<line x1="908.70" y1="1907.00" x2="908.70" y2="1985.00" stroke="#000" stroke-width="1.30" />
<path d="M908.70 1782.90 L912.70 1801.90 L904.70 1801.90 Z" fill="#000"/>
<path d="M908.70 1984.50 L904.70 1965.50 L912.70 1965.50 Z" fill="#000"/>
<text x="-0.91" y="0" font-size="18.17" textLength="43.92" lengthAdjust="spacing" transform="translate(915.20 1903.20) rotate(-90.00) scale(0.8766 1)" style='font-family:"Liberation Sans", sans-serif;font-kerning:none;' fill="#000" >20.5'</text>
<line x1="596.40" y1="1158.50" x2="632.00" y2="1158.50" stroke="#000" stroke-width="1.30" /><path d="M632.00 1158.50 L613.00 1162.50 L613.00 1154.50 Z" fill="#000"/>
<line x1="731.00" y1="1158.40" x2="692.80" y2="1158.40" stroke="#000" stroke-width="1.30" /><path d="M692.80 1158.40 L711.80 1154.40 L711.80 1162.40 Z" fill="#000"/>
<text x="-0.74" y="0" font-size="18.46" textLength="33.06" lengthAdjust="spacing" transform="translate(648.00 1164.40) scale(1.0351 1)" style='font-family:"Liberation Sans", sans-serif;font-kerning:none;' fill="#000" >5.5'</text>
<line x1="1041.80" y1="1160.50" x2="1079.00" y2="1160.50" stroke="#000" stroke-width="1.30" /><path d="M1079.00 1160.50 L1060.00 1164.50 L1060.00 1156.50 Z" fill="#000"/>
<line x1="1176.60" y1="1160.50" x2="1140.00" y2="1160.50" stroke="#000" stroke-width="1.30" /><path d="M1140.00 1160.50 L1159.00 1156.50 L1159.00 1164.50 Z" fill="#000"/>
<text x="-0.74" y="0" font-size="18.46" textLength="33.06" lengthAdjust="spacing" transform="translate(1092.80 1166.00) scale(1.0573 1)" style='font-family:"Liberation Sans", sans-serif;font-kerning:none;' fill="#000" >5.5'</text>
<line x1="595.50" y1="1714.70" x2="632.00" y2="1714.70" stroke="#000" stroke-width="1.30" /><path d="M632.00 1714.70 L613.00 1718.70 L613.00 1710.70 Z" fill="#000"/>
<line x1="725.90" y1="1713.90" x2="691.50" y2="1713.90" stroke="#000" stroke-width="1.30" /><path d="M691.50 1713.90 L710.50 1709.90 L710.50 1717.90 Z" fill="#000"/>
<text x="-0.74" y="0" font-size="18.46" textLength="33.06" lengthAdjust="spacing" transform="translate(647.30 1721.30) scale(1.0733 1)" style='font-family:"Liberation Sans", sans-serif;font-kerning:none;' fill="#000" >5.0'</text>
<line x1="1176.20" y1="1732.50" x2="1140.00" y2="1732.50" stroke="#000" stroke-width="1.30" /><path d="M1140.00 1732.50 L1159.00 1728.50 L1159.00 1736.50 Z" fill="#000"/>
<line x1="1045.00" y1="1731.50" x2="1082.40" y2="1731.50" stroke="#000" stroke-width="1.30" /><path d="M1082.40 1731.50 L1063.40 1735.50 L1063.40 1727.50 Z" fill="#000"/>
<text x="-0.74" y="0" font-size="18.46" textLength="33.06" lengthAdjust="spacing" transform="translate(1095.40 1737.90) scale(0.8376 1)" style='font-family:"Liberation Sans", sans-serif;font-kerning:none;' fill="#000" >5.0'</text>
<line x1="656.00" y1="974.30" x2="656.00" y2="906.90" stroke="#000" stroke-width="2.00" /><path d="M669.00 933.90 L656.00 906.90 L643.00 933.90" stroke="#000" stroke-width="2.00" fill="none" stroke-linejoin="miter" />
<line x1="656.00" y1="1024.40" x2="656.00" y2="1116.70" stroke="#000" stroke-width="2.00" /><path d="M649.50 1076.70 L654.80 1116.70 L657.20 1116.70 L662.50 1076.70 Z" stroke="#000" stroke-width="0.50" fill="#000" stroke-linejoin="miter" />
<line x1="656.00" y1="1266.00" x2="656.00" y2="1358.60" stroke="#000" stroke-width="2.00" /><path d="M649.50 1318.60 L654.80 1358.60 L657.20 1358.60 L662.50 1318.60 Z" stroke="#000" stroke-width="0.50" fill="#000" stroke-linejoin="miter" />
<line x1="656.00" y1="1395.00" x2="656.00" y2="1487.50" stroke="#000" stroke-width="2.00" /><path d="M649.50 1447.50 L654.80 1487.50 L657.20 1487.50 L662.50 1447.50 Z" stroke="#000" stroke-width="0.50" fill="#000" stroke-linejoin="miter" />
<line x1="656.00" y1="1618.50" x2="656.00" y2="1687.40" stroke="#000" stroke-width="2.00" /><path d="M643.00 1660.40 L656.00 1687.40 L669.00 1660.40" stroke="#000" stroke-width="2.00" fill="none" stroke-linejoin="miter" />
<line x1="656.00" y1="1823.00" x2="656.00" y2="1914.40" stroke="#000" stroke-width="2.00" /><path d="M649.50 1874.40 L654.80 1914.40 L657.20 1914.40 L662.50 1874.40 Z" stroke="#000" stroke-width="0.50" fill="#000" stroke-linejoin="miter" />
<line x1="1116.00" y1="970.00" x2="1116.00" y2="900.20" stroke="#000" stroke-width="2.00" /><path d="M1129.00 927.20 L1116.00 900.20 L1103.00 927.20" stroke="#000" stroke-width="2.00" fill="none" stroke-linejoin="miter" />
<line x1="1116.00" y1="1025.30" x2="1116.00" y2="1116.70" stroke="#000" stroke-width="2.00" /><path d="M1109.50 1076.70 L1114.80 1116.70 L1117.20 1116.70 L1122.50 1076.70 Z" stroke="#000" stroke-width="0.50" fill="#000" stroke-linejoin="miter" />
<line x1="1116.00" y1="1276.00" x2="1116.00" y2="1345.00" stroke="#000" stroke-width="2.00" /><path d="M1103.00 1318.00 L1116.00 1345.00 L1129.00 1318.00" stroke="#000" stroke-width="2.00" fill="none" stroke-linejoin="miter" />
<line x1="1116.00" y1="1458.80" x2="1116.00" y2="1527.80" stroke="#000" stroke-width="2.00" /><path d="M1103.00 1500.80 L1116.00 1527.80 L1129.00 1500.80" stroke="#000" stroke-width="2.00" fill="none" stroke-linejoin="miter" />
<line x1="1116.00" y1="1612.80" x2="1116.00" y2="1681.80" stroke="#000" stroke-width="2.00" /><path d="M1103.00 1654.80 L1116.00 1681.80 L1129.00 1654.80" stroke="#000" stroke-width="2.00" fill="none" stroke-linejoin="miter" />
<line x1="1116.00" y1="1821.60" x2="1116.00" y2="1913.80" stroke="#000" stroke-width="2.00" /><path d="M1109.50 1873.80 L1114.80 1913.80 L1117.20 1913.80 L1122.50 1873.80 Z" stroke="#000" stroke-width="0.50" fill="#000" stroke-linejoin="miter" />
<line x1="805.60" y1="971.90" x2="805.60" y2="903.30" stroke="#000" stroke-width="2.00" /><path d="M818.60 930.30 L805.60 903.30 L792.60 930.30" stroke="#000" stroke-width="2.00" fill="none" stroke-linejoin="miter" />
<line x1="991.30" y1="966.30" x2="1005.70" y2="901.40" stroke="#000" stroke-width="2.00" /><path d="M1012.54 930.57 L1005.70 901.40 L987.16 924.94" stroke="#000" stroke-width="2.00" fill="none" stroke-linejoin="miter" />
<line x1="903.10" y1="1115.00" x2="903.10" y2="1046.50" stroke="#000" stroke-width="2.00" /><path d="M916.10 1073.50 L903.10 1046.50 L890.10 1073.50" stroke="#000" stroke-width="2.00" fill="none" stroke-linejoin="miter" />
<line x1="794.80" y1="1636.90" x2="794.80" y2="1705.90" stroke="#000" stroke-width="2.00" /><path d="M781.80 1678.90 L794.80 1705.90 L807.80 1678.90" stroke="#000" stroke-width="2.00" fill="none" stroke-linejoin="miter" />
<line x1="970.00" y1="1175.70" x2="970.00" y2="1142.00" stroke="#000" stroke-width="1.30" /><path d="M975.00 1153.00 L970.00 1142.00 L965.00 1153.00" stroke="#000" stroke-width="1.30" fill="none" stroke-linejoin="miter" />
<line x1="1031.30" y1="1718.70" x2="1031.30" y2="1752.40" stroke="#000" stroke-width="1.30" /><path d="M1026.30 1741.40 L1031.30 1752.40 L1036.30 1741.40" stroke="#000" stroke-width="1.30" fill="none" stroke-linejoin="miter" />
<line x1="1001.80" y1="1786.00" x2="1058.00" y2="1827.80" stroke="#000" stroke-width="2.00" /><path d="M1028.58 1822.12 L1058.00 1827.80 L1044.09 1801.26" stroke="#000" stroke-width="2.00" fill="none" stroke-linejoin="miter" />
<line x1="969.70" y1="1874.30" x2="969.70" y2="1943.30" stroke="#000" stroke-width="2.00" /><path d="M956.70 1916.30 L969.70 1943.30 L982.70 1916.30" stroke="#000" stroke-width="2.00" fill="none" stroke-linejoin="miter" />
<line x1="793.20" y1="2007.40" x2="793.20" y2="2074.80" stroke="#000" stroke-width="2.00" /><path d="M780.20 2047.80 L793.20 2074.80 L806.20 2047.80" stroke="#000" stroke-width="2.00" fill="none" stroke-linejoin="miter" />
<path d="M773.50 955.00 L775.53 957.98 L772.89 960.43 L774.21 963.79 L771.08 965.59 L771.62 969.15 L768.18 970.21 L767.91 973.81 L764.31 974.08 L763.25 977.52 L759.69 976.98 L757.89 980.11 L754.53 978.79 L752.08 981.43 L749.10 979.40 L746.12 981.43 L743.67 978.79 L740.31 980.11 L738.51 976.98 L734.95 977.52 L733.89 974.08 L730.29 973.81 L730.02 970.21 L726.58 969.15 L727.12 965.59 L723.99 963.79 L725.31 960.43 L722.67 957.98 L724.70 955.00 L722.67 952.02 L725.31 949.57 L723.99 946.21 L727.12 944.41 L726.58 940.85 L730.02 939.79 L730.29 936.19 L733.89 935.92 L734.95 932.48 L738.51 933.02 L740.31 929.89 L743.67 931.21 L746.12 928.57 L749.10 930.60 L752.08 928.57 L754.53 931.21 L757.89 929.89 L759.69 933.02 L763.25 932.48 L764.31 935.92 L767.91 936.19 L768.18 939.79 L771.62 940.85 L771.08 944.41 L774.21 946.21 L772.89 949.57 L775.53 952.02 L773.50 955.00" stroke="#000" stroke-width="1.20" fill="none" stroke-linejoin="miter" /><path d="M773.6 951.2 A23.5 23.5 0 0 1 736.6 976.8" fill="none" stroke="#000" stroke-width="4" stroke-dasharray="2.5 1.5"/>
<path d="M1394.40 726.20 L1396.47 728.51 L1393.94 730.29 L1395.44 733.00 L1392.58 734.18 L1393.44 737.16 L1390.39 737.67 L1390.57 740.77 L1387.47 740.59 L1386.96 743.64 L1383.98 742.78 L1382.80 745.64 L1380.09 744.14 L1378.31 746.67 L1376.00 744.60 L1373.69 746.67 L1371.91 744.14 L1369.20 745.64 L1368.02 742.78 L1365.04 743.64 L1364.53 740.59 L1361.43 740.77 L1361.61 737.67 L1358.56 737.16 L1359.42 734.18 L1356.56 733.00 L1358.06 730.29 L1355.53 728.51 L1357.60 726.20 L1355.53 723.89 L1358.06 722.11 L1356.56 719.40 L1359.42 718.22 L1358.56 715.24 L1361.61 714.73 L1361.43 711.63 L1364.53 711.81 L1365.04 708.76 L1368.02 709.62 L1369.20 706.76 L1371.91 708.26 L1373.69 705.73 L1376.00 707.80 L1378.31 705.73 L1380.09 708.26 L1382.80 706.76 L1383.98 709.62 L1386.96 708.76 L1387.47 711.81 L1390.57 711.63 L1390.39 714.73 L1393.44 715.24 L1392.58 718.22 L1395.44 719.40 L1393.94 722.11 L1396.47 723.89 L1394.40 726.20" stroke="#000" stroke-width="1.20" fill="none" stroke-linejoin="miter" /><path d="M1394.6 723.4 A17.5 17.5 0 0 1 1366.5 742.7" fill="none" stroke="#000" stroke-width="4" stroke-dasharray="2.5 1.5"/>
<path d="M1100.90 1905.50 L1102.94 1908.42 L1100.30 1910.82 L1101.64 1914.12 L1098.53 1915.87 L1099.10 1919.39 L1095.69 1920.40 L1095.46 1923.96 L1091.90 1924.19 L1090.89 1927.60 L1087.37 1927.03 L1085.62 1930.14 L1082.32 1928.80 L1079.92 1931.44 L1077.00 1929.40 L1074.08 1931.44 L1071.68 1928.80 L1068.38 1930.14 L1066.63 1927.03 L1063.11 1927.60 L1062.10 1924.19 L1058.54 1923.96 L1058.31 1920.40 L1054.90 1919.39 L1055.47 1915.87 L1052.36 1914.12 L1053.70 1910.82 L1051.06 1908.42 L1053.10 1905.50 L1051.06 1902.58 L1053.70 1900.18 L1052.36 1896.88 L1055.47 1895.13 L1054.90 1891.61 L1058.31 1890.60 L1058.54 1887.04 L1062.10 1886.81 L1063.11 1883.40 L1066.63 1883.97 L1068.38 1880.86 L1071.68 1882.20 L1074.08 1879.56 L1077.00 1881.60 L1079.92 1879.56 L1082.32 1882.20 L1085.62 1880.86 L1087.37 1883.97 L1090.89 1883.40 L1091.90 1886.81 L1095.46 1887.04 L1095.69 1890.60 L1099.10 1891.61 L1098.53 1895.13 L1101.64 1896.88 L1100.30 1900.18 L1102.94 1902.58 L1100.90 1905.50" stroke="#000" stroke-width="1.20" fill="none" stroke-linejoin="miter" /><path d="M1101.0 1901.8 A23.0 23.0 0 0 1 1064.8 1926.8" fill="none" stroke="#000" stroke-width="4" stroke-dasharray="2.5 1.5"/>
<path d="M1101.70 1943.20 L1132.50 1967.30 L1132.50 1943.20 L1101.70 1967.30 Z" stroke="#000" stroke-width="1.60" fill="none" stroke-linejoin="miter" />
<text x="1070.99" y="1961.90" font-size="15.99" textLength="30.43" lengthAdjust="spacingAndGlyphs" style='font-family:"Liberation Sans", sans-serif;font-kerning:none;font-weight:bold;' fill="#000" >WM.</text>
<text x="-0.63" y="0" font-size="15.70" textLength="53.51" lengthAdjust="spacing" transform="translate(579.40 979.30) scale(0.9793 1)" style='font-family:"Liberation Sans", sans-serif;font-kerning:none;' fill="#000" >557.26</text>
<text x="-0.63" y="0" font-size="15.70" textLength="53.51" lengthAdjust="spacing" transform="translate(1156.10 978.40) scale(0.9864 1)" style='font-family:"Liberation Sans", sans-serif;font-kerning:none;' fill="#000" >557.24</text>
<line x1="1140.00" y1="976.50" x2="1148.00" y2="985.00" stroke="#000" stroke-width="1.20" />
<line x1="1140.00" y1="985.00" x2="1148.00" y2="976.50" stroke="#000" stroke-width="1.20" />
<text x="-1.00" y="0" font-size="14.24" textLength="57.87" lengthAdjust="spacing" transform="translate(879.80 1404.50) scale(1.0418 1)" style='font-family:"Liberation Sans", sans-serif;font-kerning:none;' fill="#000" >×556.77</text>
<text x="-0.63" y="0" font-size="15.70" textLength="53.51" lengthAdjust="spacing" transform="translate(825.30 1802.10) scale(0.9869 1)" style='font-family:"Liberation Sans", sans-serif;font-kerning:none;' fill="#000" >556.37</text>
<text x="-0.63" y="0" font-size="15.70" textLength="53.51" lengthAdjust="spacing" transform="translate(896.50 2002.60) scale(0.9845 1)" style='font-family:"Liberation Sans", sans-serif;font-kerning:none;' fill="#000" >555.25</text>
<text x="-0.61" y="0" font-size="15.26" textLength="52.02" lengthAdjust="spacing" transform="translate(594.50 940.20) rotate(-56.67) scale(1.0423 1)" style='font-family:"Liberation Sans", sans-serif;font-kerning:none;' fill="#000" >557.07</text>
<text x="-0.61" y="0" font-size="15.26" textLength="52.02" lengthAdjust="spacing" transform="translate(1161.60 870.40) rotate(-56.44) scale(0.9992 1)" style='font-family:"Liberation Sans", sans-serif;font-kerning:none;' fill="#000" >556.89</text>
<text x="-0.61" y="0" font-size="15.26" textLength="52.02" lengthAdjust="spacing" transform="translate(871.80 941.80) rotate(-56.63) scale(1.0787 1)" style='font-family:"Liberation Sans", sans-serif;font-kerning:none;' fill="#000" >557.03</text>
<text x="-1.07" y="0" font-size="15.26" textLength="62.00" lengthAdjust="spacing" transform="translate(887.50 991.10) rotate(-55.98) scale(1.0366 1)" style='font-family:"Liberation Sans", sans-serif;font-kerning:none;' fill="#000" >×557.31</text>
<text x="-0.61" y="0" font-size="15.26" textLength="52.02" lengthAdjust="spacing" transform="translate(603.50 1445.20) rotate(-56.28) scale(1.0277 1)" style='font-family:"Liberation Sans", sans-serif;font-kerning:none;' fill="#000" >556.91</text>
<text x="-0.61" y="0" font-size="15.26" textLength="52.02" lengthAdjust="spacing" transform="translate(600.90 1836.30) rotate(-57.86) scale(1.0914 1)" style='font-family:"Liberation Sans", sans-serif;font-kerning:none;' fill="#000" >556.37</text>
<text x="-0.61" y="0" font-size="15.26" textLength="52.02" lengthAdjust="spacing" transform="translate(646.40 1966.90) rotate(-58.37) scale(0.9542 1)" style='font-family:"Liberation Sans", sans-serif;font-kerning:none;' fill="#000" >555.24</text>
<text x="-0.61" y="0" font-size="15.26" textLength="53.14" lengthAdjust="spacing" transform="translate(1095.00 1838.90) rotate(-55.94) scale(1.1500 1)" style='font-family:"Liberation Sans", sans-serif;font-kerning:none;' fill="#000" >556.13</text>
<text x="-0.61" y="0" font-size="15.26" textLength="52.02" lengthAdjust="spacing" transform="translate(1145.80 1971.30) rotate(-54.40) scale(1.1345 1)" style='font-family:"Liberation Sans", sans-serif;font-kerning:none;' fill="#000" >555.16</text>
<text x="-1.02" y="0" font-size="14.53" textLength="59.05" lengthAdjust="spacing" transform="translate(1156.40 1389.80) rotate(-90.00) scale(1.0331 1)" style='font-family:"Liberation Sans", sans-serif;font-kerning:none;' fill="#000" >×556.78</text>
<text x="-0.30" y="0" font-size="13.81" textLength="52.99" lengthAdjust="spacing" transform="translate(601.70 2147.10) rotate(-52.00) scale(1.0262 1)" style='font-family:"Liberation Sans", sans-serif;font-kerning:none;' fill="#000" >T.O.C.=</text><text x="-0.55" y="0" font-size="13.81" textLength="47.19" lengthAdjust="spacing" transform="translate(623.70 2144.70) rotate(-52.00) scale(1.1500 1)" style='font-family:"Liberation Sans", sans-serif;font-kerning:none;' fill="#000" >555.34</text><text x="-0.69" y="0" font-size="13.81" textLength="43.38" lengthAdjust="spacing" transform="translate(637.30 2148.90) rotate(-52.00) scale(1.0472 1)" style='font-family:"Liberation Sans", sans-serif;font-kerning:none;' fill="#000" >GUT.=</text><text x="-0.55" y="0" font-size="13.81" textLength="47.72" lengthAdjust="spacing" transform="translate(656.00 2145.70) rotate(-52.00) scale(1.1500 1)" style='font-family:"Liberation Sans", sans-serif;font-kerning:none;' fill="#000" >554.85</text>
<text x="-0.30" y="0" font-size="13.81" textLength="52.99" lengthAdjust="spacing" transform="translate(839.10 2147.10) rotate(-52.00) scale(1.0262 1)" style='font-family:"Liberation Sans", sans-serif;font-kerning:none;' fill="#000" >T.O.C.=</text><text x="-0.55" y="0" font-size="13.81" textLength="47.39" lengthAdjust="spacing" transform="translate(861.10 2144.70) rotate(-52.00) scale(1.1500 1)" style='font-family:"Liberation Sans", sans-serif;font-kerning:none;' fill="#000" >555.13</text><text x="-0.69" y="0" font-size="13.81" textLength="43.38" lengthAdjust="spacing" transform="translate(874.70 2148.90) rotate(-52.00) scale(1.0472 1)" style='font-family:"Liberation Sans", sans-serif;font-kerning:none;' fill="#000" >GUT.=</text><text x="-0.55" y="0" font-size="13.81" textLength="47.73" lengthAdjust="spacing" transform="translate(893.40 2145.70) rotate(-52.00) scale(1.1500 1)" style='font-family:"Liberation Sans", sans-serif;font-kerning:none;' fill="#000" >554.68</text>
<text x="-0.30" y="0" font-size="13.81" textLength="52.99" lengthAdjust="spacing" transform="translate(1093.60 2147.10) rotate(-52.00) scale(1.0262 1)" style='font-family:"Liberation Sans", sans-serif;font-kerning:none;' fill="#000" >T.O.C.=</text><text x="-0.55" y="0" font-size="13.81" textLength="47.39" lengthAdjust="spacing" transform="translate(1115.60 2144.70) rotate(-52.00) scale(1.1500 1)" style='font-family:"Liberation Sans", sans-serif;font-kerning:none;' fill="#000" >554.96</text><text x="-0.69" y="0" font-size="13.81" textLength="43.38" lengthAdjust="spacing" transform="translate(1129.20 2148.90) rotate(-52.00) scale(1.0472 1)" style='font-family:"Liberation Sans", sans-serif;font-kerning:none;' fill="#000" >GUT.=</text><text x="-0.55" y="0" font-size="13.81" textLength="47.81" lengthAdjust="spacing" transform="translate(1147.90 2145.70) rotate(-52.00) scale(1.1500 1)" style='font-family:"Liberation Sans", sans-serif;font-kerning:none;' fill="#000" >554.51</text>
<rect x="550.30" y="1006.40" width="61.20" height="25.00" stroke="#000" stroke-width="1.30" fill="none"/><text x="-0.73" y="0" font-size="18.31" textLength="50.96" lengthAdjust="spacing" transform="translate(561.40 1026.00) scale(0.8116 1)" style='font-family:"Liberation Sans", sans-serif;font-kerning:none;' fill="#000" >557.3</text>
<rect x="1175.40" y="1002.40" width="61.30" height="24.10" stroke="#000" stroke-width="1.30" fill="none"/><text x="-0.73" y="0" font-size="18.31" textLength="50.96" lengthAdjust="spacing" transform="translate(1186.50 1021.70) scale(0.8113 1)" style='font-family:"Liberation Sans", sans-serif;font-kerning:none;' fill="#000" >557.2</text>
<rect x="550.70" y="1237.60" width="60.90" height="24.80" stroke="#000" stroke-width="1.30" fill="none"/><text x="-0.73" y="0" font-size="18.31" textLength="50.96" lengthAdjust="spacing" transform="translate(563.00 1257.60) scale(0.7502 1)" style='font-family:"Liberation Sans", sans-serif;font-kerning:none;' fill="#000" >557.1</text>
<rect x="940.40" y="1218.40" width="61.80" height="24.60" stroke="#000" stroke-width="1.30" fill="none"/><text x="-0.67" y="0" font-size="16.72" textLength="56.98" lengthAdjust="spacing" transform="translate(948.00 1238.40) scale(0.8472 1)" style='font-family:"Liberation Sans", sans-serif;font-kerning:none;' fill="#000" >558.21</text>
<rect x="550.50" y="1329.70" width="61.00" height="24.70" stroke="#000" stroke-width="1.30" fill="none"/><text x="-0.67" y="0" font-size="16.72" textLength="46.51" lengthAdjust="spacing" transform="translate(561.00 1350.00) scale(0.8880 1)" style='font-family:"Liberation Sans", sans-serif;font-kerning:none;' fill="#000" >556.9</text>
<rect x="781.50" y="1592.00" width="60.80" height="24.70" stroke="#000" stroke-width="1.30" fill="none"/><text x="-0.67" y="0" font-size="16.72" textLength="56.98" lengthAdjust="spacing" transform="translate(788.00 1612.00) scale(0.8655 1)" style='font-family:"Liberation Sans", sans-serif;font-kerning:none;' fill="#000" >557.87</text>
<rect x="992.20" y="1646.50" width="60.90" height="24.70" stroke="#000" stroke-width="1.30" fill="none"/><text x="-0.67" y="0" font-size="16.72" textLength="56.98" lengthAdjust="spacing" transform="translate(1000.00 1666.70) scale(0.8292 1)" style='font-family:"Liberation Sans", sans-serif;font-kerning:none;' fill="#000" >558.21</text>
<rect x="764.40" y="1711.60" width="60.90" height="24.70" stroke="#000" stroke-width="1.30" fill="none"/><text x="-0.67" y="0" font-size="16.72" textLength="56.98" lengthAdjust="spacing" transform="translate(771.00 1731.50) scale(0.8637 1)" style='font-family:"Liberation Sans", sans-serif;font-kerning:none;' fill="#000" >557.58</text>
<rect x="563.40" y="2001.50" width="61.00" height="24.60" stroke="#000" stroke-width="1.30" fill="none"/><text x="-0.72" y="0" font-size="17.88" textLength="49.74" lengthAdjust="spacing" transform="translate(574.00 2021.30) scale(0.8085 1)" style='font-family:"Liberation Sans", sans-serif;font-kerning:none;' fill="#000" >555.6</text>
<rect x="725.90" y="2017.70" width="60.30" height="24.40" stroke="#000" stroke-width="1.30" fill="none"/><text x="-0.72" y="0" font-size="17.88" textLength="60.94" lengthAdjust="spacing" transform="translate(731.00 2037.00) scale(0.8409 1)" style='font-family:"Liberation Sans", sans-serif;font-kerning:none;' fill="#000" >555.55</text>
<rect x="798.00" y="2017.70" width="61.00" height="24.40" stroke="#000" stroke-width="1.30" fill="none"/><text x="-0.72" y="0" font-size="17.88" textLength="60.94" lengthAdjust="spacing" transform="translate(803.00 2037.00) scale(0.8582 1)" style='font-family:"Liberation Sans", sans-serif;font-kerning:none;' fill="#000" >555.43</text>
<rect x="1152.50" y="2000.70" width="61.00" height="24.90" stroke="#000" stroke-width="1.30" fill="none"/><text x="-0.72" y="0" font-size="17.88" textLength="49.74" lengthAdjust="spacing" transform="translate(1163.00 2019.40) scale(0.8293 1)" style='font-family:"Liberation Sans", sans-serif;font-kerning:none;' fill="#000" >555.3</text>
<path d="M611.5 1018.5 L626 1018.5 Q634 1017 637 1008 L656.2 986.7" stroke="#000" stroke-width="1.30" fill="none" />
<path d="M611.6 1250.4 L622 1250.4 Q633 1249 638 1228 Q645 1200 656 1186.5" stroke="#000" stroke-width="1.30" fill="none" />
<path d="M611.5 1341 L620 1341 Q630 1341 636 1352 L656.4 1385.9" stroke="#000" stroke-width="1.30" fill="none" />
<path d="M1116 983.9 L1130.8 996 Q1145 1012 1160 1014.4 L1175.4 1014.4" stroke="#000" stroke-width="1.30" fill="none" />
<path d="M1002.2 1230.7 L1015 1230.7 Q1025 1229 1033 1215 L1048.4 1191.7" stroke="#000" stroke-width="1.30" fill="none" />
<path d="M842.3 1605.3 L852 1605.3 Q863 1603 870 1590 L888.5 1565.3" stroke="#000" stroke-width="1.30" fill="none" />
<path d="M992.2 1659.4 L985.7 1659.4 Q975 1661 968 1674 L960.1 1686" stroke="#000" stroke-width="1.30" fill="none" />
<path d="M794.8 1736.3 L794.8 1779.7" stroke="#000" stroke-width="1.30" fill="none" />
<path d="M624.4 2013.3 L630 2013.3 Q636 2012 636 2000 L636 1995" stroke="#000" stroke-width="1.30" fill="none" />
<path d="M725.9 2030 L716 2030 Q711 2028 711 2018 L710.5 1990" stroke="#000" stroke-width="1.30" fill="none" />
<path d="M859 2030 L869 2030 Q879 2028 879.5 2018 L879.9 1990" stroke="#000" stroke-width="1.30" fill="none" />
<path d="M1152.5 2012.7 L1145 2012.7 Q1140 2011 1139 2002 L1137 1992" stroke="#000" stroke-width="1.30" fill="none" />
<circle cx="656.20" cy="986.70" r="4.30" fill="#000"/>
<circle cx="656.00" cy="1186.50" r="4.30" fill="#000"/>
<circle cx="656.40" cy="1385.90" r="4.30" fill="#000"/>
<circle cx="1116.00" cy="983.90" r="4.30" fill="#000"/>
<circle cx="1048.40" cy="1191.70" r="4.30" fill="#000"/>
<circle cx="888.50" cy="1565.30" r="4.30" fill="#000"/>
<circle cx="960.10" cy="1686.00" r="4.30" fill="#000"/>
<circle cx="794.80" cy="1779.70" r="4.30" fill="#000"/>
<circle cx="710.50" cy="1985.50" r="5.50" fill="#000"/>
<circle cx="879.90" cy="1985.50" r="5.50" fill="#000"/>
<path d="M947.0 1184.5 A13.0 10.5 0 0 1 947.0 1205.5 Z" fill="#000"/><line x1="949.00" y1="1186.50" x2="953.00" y2="1190.50" stroke="#fff" stroke-width="0.90" /><line x1="949.00" y1="1197.00" x2="954.00" y2="1192.00" stroke="#fff" stroke-width="0.90" />
<line x1="953.40" y1="1175.00" x2="953.40" y2="1186.00" stroke="#000" stroke-width="1.40" />
<line x1="947.30" y1="1205.00" x2="947.30" y2="1215.00" stroke="#000" stroke-width="1.40" />
<path d="M868.2 1541.0 A13.0 10.5 0 0 1 868.2 1562.0 Z" fill="#000"/><line x1="870.20" y1="1543.00" x2="874.20" y2="1547.00" stroke="#fff" stroke-width="0.90" /><line x1="870.20" y1="1553.50" x2="875.20" y2="1548.50" stroke="#fff" stroke-width="0.90" />
<line x1="868.40" y1="1532.00" x2="868.40" y2="1541.00" stroke="#000" stroke-width="1.40" />
<line x1="874.50" y1="1552.00" x2="874.50" y2="1571.00" stroke="#000" stroke-width="1.40" />
<path d="M936.0 1667.5 A13.0 10.5 0 0 1 936.0 1688.5 Z" fill="#000"/><line x1="938.00" y1="1669.50" x2="942.00" y2="1673.50" stroke="#fff" stroke-width="0.90" /><line x1="938.00" y1="1680.00" x2="943.00" y2="1675.00" stroke="#fff" stroke-width="0.90" />
<line x1="936.00" y1="1659.00" x2="936.00" y2="1668.00" stroke="#000" stroke-width="1.40" />
<path d="M936.0 1749.5 A13.0 10.5 0 0 1 936.0 1770.5 Z" fill="#000"/><line x1="938.00" y1="1751.50" x2="942.00" y2="1755.50" stroke="#fff" stroke-width="0.90" /><line x1="938.00" y1="1762.00" x2="943.00" y2="1757.00" stroke="#fff" stroke-width="0.90" />
<line x1="936.00" y1="1746.00" x2="936.00" y2="1750.00" stroke="#000" stroke-width="1.40" />
<line x1="936.00" y1="1770.00" x2="936.00" y2="1775.00" stroke="#000" stroke-width="1.40" />
<text x="-1.33" y="0" font-size="17.44" textLength="129.45" lengthAdjust="spacing" transform="translate(330.50 992.50) scale(0.7365 1)" style='font-family:"Liberation Sans", sans-serif;font-kerning:none;' fill="#000" >15'&#160;&#160;BUILDING</text>
<text x="-0.78" y="0" font-size="17.44" textLength="144.31" lengthAdjust="spacing" transform="translate(324.50 1011.00) scale(0.7200 1)" style='font-family:"Liberation Sans", sans-serif;font-kerning:none;' fill="#000" >SETBACK&#160;&#160;LINE</text>
<path d="M429 1005 L439 1005 Q447 1006 452 1015 L459 1028" stroke="#000" stroke-width="1.30" fill="none" />
<path d="M466.50 1037.40 L452.04 1024.36 L458.98 1019.44 Z" fill="#000"/>
<text x="-0.70" y="0" font-size="17.44" textLength="118.53" lengthAdjust="spacing" transform="translate(514.60 1057.50) scale(0.7286 1)" style='font-family:"Liberation Sans", sans-serif;font-kerning:none;' fill="#000" >5'&#160;&#160;BUILDING</text>
<text x="-0.78" y="0" font-size="17.44" textLength="144.03" lengthAdjust="spacing" transform="translate(507.40 1077.60) scale(0.7200 1)" style='font-family:"Liberation Sans", sans-serif;font-kerning:none;' fill="#000" >SETBACK&#160;&#160;LINE</text>
<path d="M614.5 1071.5 L636 1071.5 L672 1055.5" stroke="#000" stroke-width="1.30" fill="none" />
<path d="M684.70 1050.50 L668.71 1061.60 L665.50 1053.73 Z" fill="#000"/>
<text x="-0.70" y="0" font-size="17.44" textLength="99.86" lengthAdjust="spacing" transform="translate(505.00 1187.80) scale(0.7310 1)" style='font-family:"Liberation Sans", sans-serif;font-kerning:none;' fill="#000" >5'&#160;&#160;UTILITY</text>
<text x="-1.43" y="0" font-size="17.44" textLength="103.78" lengthAdjust="spacing" transform="translate(502.60 1207.60) scale(0.7200 1)" style='font-family:"Liberation Sans", sans-serif;font-kerning:none;' fill="#000" >EASEMENT</text>
<path d="M577 1200 L590.4 1200 Q605 1197 618 1183" stroke="#000" stroke-width="1.30" fill="none" />
<path d="M634.00 1172.50 L620.46 1186.49 L615.79 1179.39 Z" fill="#000"/>
<path d="M590.4 1200 Q620 1203 640 1220 Q660 1235 672 1240" stroke="#000" stroke-width="1.30" fill="none" />
<path d="M684.00 1246.00 L665.11 1241.30 L668.91 1233.70 Z" fill="#000"/>
<text x="-0.70" y="0" font-size="17.44" textLength="118.53" lengthAdjust="spacing" transform="translate(1154.90 1068.10) scale(0.7329 1)" style='font-family:"Liberation Sans", sans-serif;font-kerning:none;' fill="#000" >5'&#160;&#160;BUILDING</text>
<text x="-0.78" y="0" font-size="17.44" textLength="143.62" lengthAdjust="spacing" transform="translate(1147.70 1087.80) scale(0.7200 1)" style='font-family:"Liberation Sans", sans-serif;font-kerning:none;' fill="#000" >SETBACK&#160;&#160;LINE</text>
<path d="M1151.3 1062.6 L1132 1062.6 Q1120 1060 1110 1045 L1098 1032" stroke="#000" stroke-width="1.30" fill="none" />
<path d="M1086.30 1022.90 L1103.74 1031.56 L1098.39 1038.16 Z" fill="#000"/>
<text x="-0.70" y="0" font-size="17.44" textLength="99.86" lengthAdjust="spacing" transform="translate(1197.00 1199.30) scale(0.7431 1)" style='font-family:"Liberation Sans", sans-serif;font-kerning:none;' fill="#000" >5'&#160;&#160;UTILITY</text>
<text x="-1.43" y="0" font-size="17.44" textLength="104.49" lengthAdjust="spacing" transform="translate(1197.00 1219.70) scale(0.7305 1)" style='font-family:"Liberation Sans", sans-serif;font-kerning:none;' fill="#000" >EASEMENT</text>
<path d="M1192.2 1193.7 L1179 1193.7 Q1165 1188 1152 1175" stroke="#000" stroke-width="1.30" fill="none" />
<path d="M1140.00 1167.00 L1158.06 1174.26 L1153.25 1181.27 Z" fill="#000"/>
<path d="M1179 1193.7 Q1150 1197 1130 1215 Q1110 1232 1100 1238" stroke="#000" stroke-width="1.30" fill="none" />
<path d="M1088.00 1245.00 L1102.11 1231.58 L1106.48 1238.87 Z" fill="#000"/>
<text x="-0.87" y="0" font-size="17.44" textLength="129.45" lengthAdjust="spacing" transform="translate(314.70 1742.00) scale(0.7441 1)" style='font-family:"Liberation Sans", sans-serif;font-kerning:none;' fill="#000" >20'&#160;&#160;BUILDING</text>
<text x="-0.78" y="0" font-size="17.44" textLength="144.54" lengthAdjust="spacing" transform="translate(309.40 1761.40) scale(0.7203 1)" style='font-family:"Liberation Sans", sans-serif;font-kerning:none;' fill="#000" >SETBACK&#160;&#160;LINE</text>
<path d="M413 1755.5 L423 1755.5 Q432 1757 438 1767 L444 1777" stroke="#000" stroke-width="1.30" fill="none" />
<path d="M451.10 1788.10 L437.40 1774.26 L444.60 1769.75 Z" fill="#000"/>
<text x="-0.87" y="0" font-size="17.44" textLength="110.78" lengthAdjust="spacing" transform="translate(303.50 1868.90) scale(0.7322 1)" style='font-family:"Liberation Sans", sans-serif;font-kerning:none;' fill="#000" >20'&#160;&#160;UTILITY</text>
<text x="-1.43" y="0" font-size="17.44" textLength="103.92" lengthAdjust="spacing" transform="translate(305.40 1888.40) scale(0.7200 1)" style='font-family:"Liberation Sans", sans-serif;font-kerning:none;' fill="#000" >EASEMENT</text>
<path d="M379 1883.9 L393.6 1883.9 Q410 1882 420 1860 Q432 1820 444 1800" stroke="#000" stroke-width="1.30" fill="none" />
<path d="M451.10 1789.00 L444.55 1807.34 L437.36 1802.80 Z" fill="#000"/>
<path d="M393.6 1883.9 Q410 1886 422 1910 Q440 1950 452 1973" stroke="#000" stroke-width="1.30" fill="none" />
<path d="M459.70 1987.30 L446.09 1973.38 L453.32 1968.91 Z" fill="#000"/>
<text x="-0.38" y="0" font-size="17.44" textLength="50.30" lengthAdjust="spacing" transform="translate(542.00 1822.40) scale(0.7200 1)" style='font-family:"Liberation Sans", sans-serif;font-kerning:none;' fill="#000" >TELE.</text>
<text x="-1.43" y="0" font-size="17.44" textLength="98.37" lengthAdjust="spacing" transform="translate(523.30 1842.10) scale(0.7357 1)" style='font-family:"Liberation Sans", sans-serif;font-kerning:none;' fill="#000" >PEDESTAL</text>
<path d="M595 1836.3 L600.9 1836.3 Q607 1838 612 1852 L620 1874" stroke="#000" stroke-width="1.30" fill="none" />
<path d="M627.60 1889.70 L615.14 1874.74 L622.70 1870.86 Z" fill="#000"/>
<text x="-0.89" y="0" font-size="17.44" textLength="48.89" lengthAdjust="spacing" transform="translate(515.80 1896.40) scale(0.7701 1)" style='font-family:"Liberation Sans", sans-serif;font-kerning:none;' fill="#000" >CATV</text>
<text x="-1.43" y="0" font-size="17.44" textLength="98.37" lengthAdjust="spacing" transform="translate(498.70 1914.30) scale(0.7274 1)" style='font-family:"Liberation Sans", sans-serif;font-kerning:none;' fill="#000" >PEDESTAL</text>
<path d="M570 1909 Q580 1908 592 1900" stroke="#000" stroke-width="1.30" fill="none" />
<path d="M604.90 1895.10 L588.86 1906.14 L585.69 1898.25 Z" fill="#000"/>
<text x="-0.87" y="0" font-size="17.44" textLength="57.04" lengthAdjust="spacing" transform="translate(546.80 1949.10) scale(0.7200 1)" style='font-family:"Liberation Sans", sans-serif;font-kerning:none;' fill="#000" >GVEC.</text>
<text x="-1.43" y="0" font-size="17.44" textLength="39.28" lengthAdjust="spacing" transform="translate(552.70 1967.30) scale(0.7283 1)" style='font-family:"Liberation Sans", sans-serif;font-kerning:none;' fill="#000" >BOX</text>
<path d="M584.8 1961.4 Q594 1960 603 1948 L614 1935" stroke="#000" stroke-width="1.30" fill="none" />
<path d="M624.90 1924.00 L614.85 1940.67 L608.70 1934.80 Z" fill="#000"/>
<text x="-0.66" y="0" font-size="17.44" textLength="88.69" lengthAdjust="spacing" transform="translate(971.30 1851.80) scale(0.7427 1)" style='font-family:"Liberation Sans", sans-serif;font-kerning:none;' fill="#000" >3'&#160;&#160;CONC.</text>
<text x="-0.07" y="0" font-size="17.44" textLength="49.30" lengthAdjust="spacing" transform="translate(985.70 1867.90) scale(0.7200 1)" style='font-family:"Liberation Sans", sans-serif;font-kerning:none;' fill="#000" >WALK</text>
<path d="M966.5 1845.4 L957 1845 Q948 1840 942 1825 L935 1812" stroke="#000" stroke-width="1.30" fill="none" />
<path d="M926.40 1798.90 L940.68 1812.13 L933.69 1816.95 Z" fill="#000"/>
<circle cx="628.90" cy="1892.40" r="6.20" stroke="#000" stroke-width="1.60" fill="none"/>
<circle cx="610.20" cy="1892.90" r="6.20" stroke="#000" stroke-width="1.60" fill="none"/>
<path d="M632.40 1917.00 L619.00 1917.00 L619.00 1928.50 L632.40 1928.50" stroke="#000" stroke-width="1.60" fill="none" stroke-linejoin="miter" />
<path d="M329.30 1076.00 L349.80 1040.60 L389.50 1040.60 L410.00 1076.00 L389.50 1109.60 L349.80 1109.60 Z" stroke="#000" stroke-width="2.20" fill="none" stroke-linejoin="miter" /><line x1="329.30" y1="1076.00" x2="410.00" y2="1076.00" stroke="#000" stroke-width="2.20" /><text x="-1.82" y="0" font-size="23.98" textLength="28.35" lengthAdjust="spacing" transform="translate(356.35 1067.50) scale(0.9990 1)" style='font-family:"Liberation Sans", sans-serif;font-kerning:none;' fill="#000" >17</text><text x="362.00" y="1100.00" font-size="23.98" textLength="14.00" lengthAdjust="spacingAndGlyphs" style='font-family:"Liberation Sans", sans-serif;font-kerning:none;' fill="#000" >8</text>
<text x="-2.06" y="0" font-size="25.15" textLength="104.94" lengthAdjust="spacing" transform="translate(304.00 1135.40) scale(0.9347 1)" style='font-family:"Liberation Sans", sans-serif;font-kerning:none;' fill="#000" >E=557.1</text>
<text x="-2.06" y="0" font-size="25.15" textLength="103.53" lengthAdjust="spacing" transform="translate(304.00 1159.00) scale(1.0062 1)" style='font-family:"Liberation Sans", sans-serif;font-kerning:none;' fill="#000" >F=557.8</text>
<path d="M1354.60 1076.00 L1374.60 1042.10 L1414.80 1042.10 L1434.00 1076.00 L1414.80 1111.00 L1374.60 1111.00 Z" stroke="#000" stroke-width="2.20" fill="none" stroke-linejoin="miter" /><line x1="1354.60" y1="1076.00" x2="1434.00" y2="1076.00" stroke="#000" stroke-width="2.20" /><text x="-1.82" y="0" font-size="23.98" textLength="28.35" lengthAdjust="spacing" transform="translate(1381.65 1069.30) scale(0.9990 1)" style='font-family:"Liberation Sans", sans-serif;font-kerning:none;' fill="#000" >17</text><text x="-1.82" y="0" font-size="23.98" textLength="28.35" lengthAdjust="spacing" transform="translate(1381.05 1101.80) scale(1.0356 1)" style='font-family:"Liberation Sans", sans-serif;font-kerning:none;' fill="#000" >10</text>
<text x="-2.06" y="0" font-size="25.15" textLength="104.94" lengthAdjust="spacing" transform="translate(1329.30 1136.00) scale(0.9357 1)" style='font-family:"Liberation Sans", sans-serif;font-kerning:none;' fill="#000" >E=557.1</text>
<text x="-2.06" y="0" font-size="25.15" textLength="103.53" lengthAdjust="spacing" transform="translate(1329.30 1159.10) scale(1.0039 1)" style='font-family:"Liberation Sans", sans-serif;font-kerning:none;' fill="#000" >F=557.7</text>
<path d="M315.70 1634.50 L335.00 1599.90 L375.70 1599.90 L395.00 1634.50 L375.70 1668.80 L335.00 1668.80 Z" stroke="#000" stroke-width="2.20" fill="none" stroke-linejoin="miter" /><line x1="315.70" y1="1634.50" x2="395.00" y2="1634.50" stroke="#000" stroke-width="2.20" /><text x="-1.20" y="0" font-size="23.98" textLength="28.35" lengthAdjust="spacing" transform="translate(340.35 1627.10) scale(1.1055 1)" style='font-family:"Liberation Sans", sans-serif;font-kerning:none;' fill="#000" >25</text><text x="-1.82" y="0" font-size="23.98" textLength="28.35" lengthAdjust="spacing" transform="translate(341.95 1660.20) scale(0.9950 1)" style='font-family:"Liberation Sans", sans-serif;font-kerning:none;' fill="#000" >14</text>
<text x="-2.06" y="0" font-size="25.15" textLength="104.94" lengthAdjust="spacing" transform="translate(290.70 1693.90) scale(0.9888 1)" style='font-family:"Liberation Sans", sans-serif;font-kerning:none;' fill="#000" >E=556.4</text>
<text x="-2.06" y="0" font-size="25.15" textLength="103.53" lengthAdjust="spacing" transform="translate(290.70 1717.90) scale(1.0004 1)" style='font-family:"Liberation Sans", sans-serif;font-kerning:none;' fill="#000" >F=557.3</text>
<path d="M1370.30 1701.00 L1389.60 1666.40 L1431.30 1666.40 L1450.60 1701.00 L1431.30 1735.70 L1389.60 1735.70 Z" stroke="#000" stroke-width="2.20" fill="none" stroke-linejoin="miter" /><line x1="1370.30" y1="1701.00" x2="1450.60" y2="1701.00" stroke="#000" stroke-width="2.20" /><text x="-1.20" y="0" font-size="23.98" textLength="28.35" lengthAdjust="spacing" transform="translate(1395.95 1694.00) scale(1.1066 1)" style='font-family:"Liberation Sans", sans-serif;font-kerning:none;' fill="#000" >28</text><text x="-1.20" y="0" font-size="23.98" textLength="28.35" lengthAdjust="spacing" transform="translate(1395.95 1727.70) scale(1.1025 1)" style='font-family:"Liberation Sans", sans-serif;font-kerning:none;' fill="#000" >20</text>
<text x="-2.06" y="0" font-size="25.15" textLength="104.94" lengthAdjust="spacing" transform="translate(1345.60 1761.30) scale(0.9851 1)" style='font-family:"Liberation Sans", sans-serif;font-kerning:none;' fill="#000" >E=556.2</text>
<text x="-2.06" y="0" font-size="25.15" textLength="103.53" lengthAdjust="spacing" transform="translate(1345.60 1785.30) scale(0.9972 1)" style='font-family:"Liberation Sans", sans-serif;font-kerning:none;' fill="#000" >F=556.8</text>
<text x="-2.86" y="0" font-size="34.88" textLength="72.73" lengthAdjust="spacing" transform="translate(197.60 1374.00) scale(0.9295 1)" style='font-family:"Liberation Sans", sans-serif;font-kerning:none;' fill="#000" stroke="#fff" stroke-width="1.00" >LOT</text><text x="-0.80" y="0" font-size="34.88" textLength="63.09" lengthAdjust="spacing" transform="translate(285.90 1374.00) scale(0.9764 1)" style='font-family:"Liberation Sans", sans-serif;font-kerning:none;' fill="#000" stroke="#fff" stroke-width="1.00" >413</text>
<text x="-0.39" y="0" font-size="43.05" textLength="152.29" lengthAdjust="spacing" transform="translate(197.60 1430.80) scale(0.9600 1)" style='font-family:"Liberation Serif", serif;font-kerning:none;font-style:italic;' fill="#000" stroke="#000" stroke-width="0.20" >BLOCK</text>
<text x="-2.94" y="0" font-size="35.90" textLength="74.85" lengthAdjust="spacing" transform="translate(1375.20 1377.60) scale(0.9017 1)" style='font-family:"Liberation Sans", sans-serif;font-kerning:none;' fill="#000" stroke="#fff" stroke-width="1.00" >LOT</text><text x="-0.83" y="0" font-size="35.90" textLength="64.93" lengthAdjust="spacing" transform="translate(1463.40 1377.60) scale(0.9477 1)" style='font-family:"Liberation Sans", sans-serif;font-kerning:none;' fill="#000" stroke="#fff" stroke-width="1.00" >415</text>
<text x="-1.59" y="0" font-size="44.12" textLength="53.53" lengthAdjust="spacing" transform="translate(1431.30 1431.50) scale(0.9000 1)" style='font-family:"Liberation Serif", serif;font-kerning:none;font-style:italic;' fill="#000" stroke="#000" stroke-width="0.30" >17</text>
<text x="815.28" y="1376.80" font-size="38.95" textLength="152.42" lengthAdjust="spacingAndGlyphs" style='font-family:"Liberation Sans", sans-serif;font-kerning:none;font-weight:bold;' fill="#000" >LOT&#160;&#160;414</text>
<text x="-1.32" y="0" font-size="23.51" textLength="144.46" lengthAdjust="spacing" transform="translate(815.30 1424.50) scale(1.1800 1)" style='font-family:"Liberation Serif", serif;font-kerning:none;font-style:italic;' fill="#000" stroke="#000" stroke-width="0.45" >CC–1786–BL</text>
<text x="-2.01" y="0" font-size="24.56" textLength="140.34" lengthAdjust="spacing" transform="translate(781.50 1458.30) scale(0.8509 1)" style='font-family:"Liberation Sans", sans-serif;font-kerning:none;' fill="#000" stroke="#000" stroke-width="0.40" >DRAINAGE</text><text x="-0.54" y="0" font-size="24.56" textLength="69.32" lengthAdjust="spacing" transform="translate(915.20 1458.30) scale(0.8402 1)" style='font-family:"Liberation Sans", sans-serif;font-kerning:none;' fill="#000" stroke="#000" stroke-width="0.40" >TYPE</text><text x="-1.25" y="0" font-size="24.56" textLength="29.20" lengthAdjust="spacing" transform="translate(993.60 1458.30) scale(0.8643 1)" style='font-family:"Liberation Sans", sans-serif;font-kerning:none;' fill="#000" stroke="#000" stroke-width="0.40" >'B'</text>
<rect x="818.40" y="1467.50" width="161.40" height="33.20" stroke="#000" stroke-width="3.50" fill="none"/>
<text x="825.80" y="1493.60" font-size="26.89" textLength="139.71" lengthAdjust="spacingAndGlyphs" style='font-family:"Liberation Sans", sans-serif;font-kerning:none;font-weight:bold;' fill="#000" stroke="#000" stroke-width="1.20" >F.F.=558.50</text>
<text x="-0.89" y="0" font-size="17.44" textLength="44.70" lengthAdjust="spacing" transform="translate(987.70 1161.20) scale(0.7412 1)" style='font-family:"Liberation Sans", sans-serif;font-kerning:none;' fill="#000" >COV.</text>
<text x="-0.89" y="0" font-size="17.44" textLength="60.26" lengthAdjust="spacing" transform="translate(982.90 1179.30) scale(0.7200 1)" style='font-family:"Liberation Sans", sans-serif;font-kerning:none;' fill="#000" >CONC.</text>
<text x="-0.89" y="0" font-size="17.44" textLength="44.70" lengthAdjust="spacing" transform="translate(961.70 1729.30) scale(0.7602 1)" style='font-family:"Liberation Sans", sans-serif;font-kerning:none;' fill="#000" >COV.</text>
<text x="-0.89" y="0" font-size="17.44" textLength="61.08" lengthAdjust="spacing" transform="translate(956.20 1747.60) scale(0.7235 1)" style='font-family:"Liberation Sans", sans-serif;font-kerning:none;' fill="#000" >CONC.</text>
<text x="-1.33" y="0" font-size="17.44" textLength="25.17" lengthAdjust="spacing" transform="translate(788.40 1884.00) scale(0.8402 1)" style='font-family:"Liberation Sans", sans-serif;font-kerning:none;' fill="#000" >17'</text>
<text x="-0.89" y="0" font-size="17.44" textLength="60.40" lengthAdjust="spacing" transform="translate(777.20 1900.00) scale(0.7200 1)" style='font-family:"Liberation Sans", sans-serif;font-kerning:none;' fill="#000" >CONC.</text>
<text x="-1.43" y="0" font-size="17.44" textLength="55.66" lengthAdjust="spacing" transform="translate(778.20 1918.60) scale(0.7200 1)" style='font-family:"Liberation Sans", sans-serif;font-kerning:none;' fill="#000" >DRIVE</text>
<text x="-0.40" y="0" font-size="17.44" textLength="154.49" lengthAdjust="spacing" transform="translate(942.40 2065.20) scale(0.7298 1)" style='font-family:"Liberation Sans", sans-serif;font-kerning:none;' fill="#000" >4'&#160;&#160;CONC.&#160;&#160;WALK</text>
<text x="-0.82" y="0" font-size="15.99" textLength="48.66" lengthAdjust="spacing" transform="translate(978.40 2104.90) scale(0.8190 1)" style='font-family:"Liberation Sans", sans-serif;font-kerning:none;' fill="#000" >CURB</text>
<text x="-0.78" y="0" font-size="17.44" textLength="62.65" lengthAdjust="spacing" transform="translate(737.10 1893.60) rotate(-90.00) scale(0.7200 1)" style='font-family:"Liberation Sans", sans-serif;font-kerning:none;' fill="#000" >SLOPE</text>
<text x="-0.82" y="0" font-size="17.44" textLength="43.42" lengthAdjust="spacing" transform="translate(758.00 1888.70) rotate(-90.00) scale(0.7622 1)" style='font-family:"Liberation Sans", sans-serif;font-kerning:none;' fill="#000" >9.9%</text>
<line x1="740.30" y1="1850.20" x2="740.30" y2="1917.60" stroke="#000" stroke-width="1.30" />
<path d="M740.30 1898.40 L750.90 1898.40 L740.30 1917.60" stroke="#000" stroke-width="1.30" fill="none" stroke-linejoin="miter" />
<text x="-1.33" y="0" font-size="17.44" textLength="54.34" lengthAdjust="spacing" transform="translate(843.00 1890.30) rotate(-90.00) scale(0.7653 1)" style='font-family:"Liberation Sans", sans-serif;font-kerning:none;' fill="#000" >10.5%</text>
<text x="-0.78" y="0" font-size="17.44" textLength="61.81" lengthAdjust="spacing" transform="translate(863.80 1898.40) rotate(-90.00) scale(0.7200 1)" style='font-family:"Liberation Sans", sans-serif;font-kerning:none;' fill="#000" >SLOPE</text>
<line x1="848.40" y1="1855.00" x2="848.40" y2="1922.40" stroke="#000" stroke-width="1.30" />
<path d="M848.40 1903.20 L838.20 1903.20 L848.40 1922.40" stroke="#000" stroke-width="1.30" fill="none" stroke-linejoin="miter" />
<text x="-0.80" y="0" font-size="15.99" textLength="16.26" lengthAdjust="spacing" transform="translate(790.00 1672.00) rotate(-90.00) scale(1.1500 1)" style='font-family:"Liberation Sans", sans-serif;font-kerning:none;' fill="#000" >2"</text>
<text x="-0.61" y="0" font-size="15.99" textLength="30.14" lengthAdjust="spacing" transform="translate(949.00 1187.20) rotate(-90.00) scale(0.9148 1)" style='font-family:"Liberation Sans", sans-serif;font-kerning:none;' fill="#000" >3½"</text>
<text x="-0.80" y="0" font-size="15.99" textLength="15.69" lengthAdjust="spacing" transform="translate(962.00 1165.60) rotate(-90.00) scale(0.9568 1)" style='font-family:"Liberation Sans", sans-serif;font-kerning:none;' fill="#000" >2"</text>
<text x="-0.82" y="0" font-size="15.99" textLength="30.14" lengthAdjust="spacing" transform="translate(873.70 1579.80) rotate(-90.00) scale(0.8586 1)" style='font-family:"Liberation Sans", sans-serif;font-kerning:none;' fill="#000" >7½"</text>
<text x="-0.61" y="0" font-size="15.99" textLength="30.14" lengthAdjust="spacing" transform="translate(946.00 1714.00) rotate(-90.00) scale(0.8316 1)" style='font-family:"Liberation Sans", sans-serif;font-kerning:none;' fill="#000" >3½"</text>
<text x="-0.82" y="0" font-size="15.99" textLength="30.14" lengthAdjust="spacing" transform="translate(922.00 1757.00) rotate(-90.00) scale(0.9075 1)" style='font-family:"Liberation Sans", sans-serif;font-kerning:none;' fill="#000" >7½"</text>
<text x="-0.80" y="0" font-size="15.99" textLength="15.69" lengthAdjust="spacing" transform="translate(1022.00 1730.00) rotate(-90.00) scale(0.9146 1)" style='font-family:"Liberation Sans", sans-serif;font-kerning:none;' fill="#000" >2"</text>
<text x="530.95" y="1662.00" font-size="37.79" textLength="26.87" lengthAdjust="spacingAndGlyphs" style='font-family:"Liberation Sans", sans-serif;font-kerning:none;' fill="#000" transform="rotate(-90.00 534.00 1662.00)" stroke="#fff" stroke-width="0.65" >N</text><text x="-1.62" y="0" font-size="37.79" textLength="183.36" lengthAdjust="spacing" transform="translate(534.00 1614.00) rotate(-90.00) scale(0.9222 1)" style='font-family:"Liberation Sans", sans-serif;font-kerning:none;' fill="#000" stroke="#fff" stroke-width="0.65" >89°26’05”</text><text x="531.53" y="1419.20" font-size="37.79" textLength="20.06" lengthAdjust="spacingAndGlyphs" style='font-family:"Liberation Sans", sans-serif;font-kerning:none;' fill="#000" transform="rotate(-90.00 534.00 1419.20)" stroke="#fff" stroke-width="0.65" >E</text>
<text x="-2.87" y="0" font-size="37.79" textLength="137.05" lengthAdjust="spacing" transform="translate(578.10 1678.90) rotate(-90.00) scale(0.9263 1)" style='font-family:"Liberation Sans", sans-serif;font-kerning:none;' fill="#000" stroke="#fff" stroke-width="0.65" >110.00’</text><text x="-2.34" y="0" font-size="37.79" textLength="38.31" lengthAdjust="spacing" transform="translate(578.10 1529.50) rotate(-90.00) scale(0.9604 1)" style='font-family:"Liberation Sans", sans-serif;font-kerning:none;' fill="#000" stroke="#fff" stroke-width="0.65" >(F</text><text x="576.77" y="1470.50" font-size="37.79" textLength="25.34" lengthAdjust="spacingAndGlyphs" style='font-family:"Liberation Sans", sans-serif;font-kerning:none;' fill="#000" transform="rotate(-90.00 578.10 1470.50)" stroke="#fff" stroke-width="0.65" >&amp;</text><text x="-3.10" y="0" font-size="37.79" textLength="40.44" lengthAdjust="spacing" transform="translate(578.10 1419.80) rotate(-90.00) scale(0.9659 1)" style='font-family:"Liberation Sans", sans-serif;font-kerning:none;' fill="#000" stroke="#fff" stroke-width="0.65" >P)</text>
<text x="1215.77" y="1649.60" font-size="36.92" textLength="25.59" lengthAdjust="spacingAndGlyphs" style='font-family:"Liberation Sans", sans-serif;font-kerning:none;' fill="#000" transform="rotate(-90.00 1217.50 1649.60)" stroke="#fff" stroke-width="0.64" >S</text><text x="-1.59" y="0" font-size="36.92" textLength="179.13" lengthAdjust="spacing" transform="translate(1217.50 1601.60) rotate(-90.00) scale(0.9292 1)" style='font-family:"Liberation Sans", sans-serif;font-kerning:none;' fill="#000" stroke="#fff" stroke-width="0.64" >89°26’05”</text><text x="1217.40" y="1408.70" font-size="36.92" textLength="24.20" lengthAdjust="spacingAndGlyphs" style='font-family:"Liberation Sans", sans-serif;font-kerning:none;' fill="#000" transform="rotate(-90.00 1217.50 1408.70)" stroke="#fff" stroke-width="0.64" >W</text>
<text x="-2.87" y="0" font-size="37.79" textLength="137.05" lengthAdjust="spacing" transform="translate(1262.90 1663.90) rotate(-90.00) scale(0.9164 1)" style='font-family:"Liberation Sans", sans-serif;font-kerning:none;' fill="#000" stroke="#fff" stroke-width="0.65" >110.00’</text><text x="-2.34" y="0" font-size="37.79" textLength="38.31" lengthAdjust="spacing" transform="translate(1262.90 1514.50) rotate(-90.00) scale(0.9604 1)" style='font-family:"Liberation Sans", sans-serif;font-kerning:none;' fill="#000" stroke="#fff" stroke-width="0.65" >(F</text><text x="1261.50" y="1455.50" font-size="37.79" textLength="26.74" lengthAdjust="spacingAndGlyphs" style='font-family:"Liberation Sans", sans-serif;font-kerning:none;' fill="#000" transform="rotate(-90.00 1262.90 1455.50)" stroke="#fff" stroke-width="0.65" >&amp;</text><text x="-3.10" y="0" font-size="37.79" textLength="40.44" lengthAdjust="spacing" transform="translate(1262.90 1404.80) rotate(-90.00) scale(0.9659 1)" style='font-family:"Liberation Sans", sans-serif;font-kerning:none;' fill="#000" stroke="#fff" stroke-width="0.65" >P)</text>
<text x="614.83" y="2189.50" font-size="36.19" textLength="24.42" lengthAdjust="spacingAndGlyphs" style='font-family:"Liberation Sans", sans-serif;font-kerning:none;' fill="#000" stroke="#fff" stroke-width="0.62" >N</text><text x="-1.41" y="0" font-size="36.19" textLength="152.94" lengthAdjust="spacing" transform="translate(664.60 2189.50) scale(0.9714 1)" style='font-family:"Liberation Sans", sans-serif;font-kerning:none;' fill="#000" stroke="#fff" stroke-width="0.62" >0°56’53”</text><text x="837.49" y="2189.50" font-size="36.19" textLength="25.31" lengthAdjust="spacingAndGlyphs" style='font-family:"Liberation Sans", sans-serif;font-kerning:none;' fill="#000" stroke="#fff" stroke-width="0.62" >W</text><text x="-1.45" y="0" font-size="36.19" textLength="111.28" lengthAdjust="spacing" transform="translate(887.00 2189.50) scale(0.9976 1)" style='font-family:"Liberation Sans", sans-serif;font-kerning:none;' fill="#000" stroke="#fff" stroke-width="0.62" >50.00’</text><text x="-2.24" y="0" font-size="36.19" textLength="36.69" lengthAdjust="spacing" transform="translate(1021.40 2189.50) scale(1.0028 1)" style='font-family:"Liberation Sans", sans-serif;font-kerning:none;' fill="#000" stroke="#fff" stroke-width="0.62" >(F</text><text x="1078.02" y="2189.50" font-size="36.19" textLength="28.26" lengthAdjust="spacingAndGlyphs" style='font-family:"Liberation Sans", sans-serif;font-kerning:none;' fill="#000" stroke="#fff" stroke-width="0.62" >&amp;</text><text x="-2.97" y="0" font-size="36.19" textLength="38.73" lengthAdjust="spacing" transform="translate(1130.70 2189.50) scale(1.0473 1)" style='font-family:"Liberation Sans", sans-serif;font-kerning:none;' fill="#000" stroke="#fff" stroke-width="0.62" >P)</text>
<text x="-3.10" y="0" font-size="37.79" textLength="236.73" lengthAdjust="spacing" transform="translate(731.30 2226.20) scale(0.8310 1)" style='font-family:"Liberation Sans", sans-serif;font-kerning:none;' fill="#000" stroke="#fff" stroke-width="0.65" >HERITANCE</text><text x="-3.10" y="0" font-size="37.79" textLength="105.96" lengthAdjust="spacing" transform="translate(949.20 2226.20) scale(0.9018 1)" style='font-family:"Liberation Sans", sans-serif;font-kerning:none;' fill="#000" stroke="#fff" stroke-width="0.65" >PASS</text>
<line x1="637.00" y1="2236.00" x2="737.50" y2="2236.00" stroke="#000" stroke-width="2.20" />
<line x1="763.00" y1="2236.00" x2="785.00" y2="2236.00" stroke="#000" stroke-width="2.20" />
<line x1="812.40" y1="2236.00" x2="964.30" y2="2236.00" stroke="#000" stroke-width="2.20" />
<line x1="987.80" y1="2236.00" x2="1013.50" y2="2236.00" stroke="#000" stroke-width="2.20" />
<line x1="1037.00" y1="2236.00" x2="1139.70" y2="2236.00" stroke="#000" stroke-width="2.20" />
<text x="-1.53" y="0" font-size="24.71" textLength="46.39" lengthAdjust="spacing" transform="translate(813.60 2268.30) scale(1.1174 1)" style='font-family:"Liberation Sans", sans-serif;font-kerning:none;' fill="#000" >(50’</text><text x="-2.03" y="0" font-size="24.71" textLength="98.22" lengthAdjust="spacing" transform="translate(877.00 2268.30) scale(0.8578 1)" style='font-family:"Liberation Sans", sans-serif;font-kerning:none;' fill="#000" >R.O.W.)</text>
<line x1="66.00" y1="2081.50" x2="458.20" y2="2081.50" stroke="#000" stroke-width="1.60" />
<line x1="457.40" y1="2081.50" x2="457.40" y2="2734.00" stroke="#000" stroke-width="1.60" />
<line x1="66.00" y1="2112.50" x2="458.20" y2="2112.50" stroke="#000" stroke-width="1.60" />
<line x1="326.80" y1="2112.50" x2="326.80" y2="2734.00" stroke="#767676" stroke-width="2.00" />
<text x="190.14" y="2104.30" font-size="26.74" textLength="18.51" lengthAdjust="spacingAndGlyphs" style='font-family:"Liberation Sans", sans-serif;font-kerning:none;' fill="none" stroke="#000" stroke-width="1.3">A</text>
<text x="214.29" y="2104.30" font-size="26.74" textLength="19.45" lengthAdjust="spacingAndGlyphs" style='font-family:"Liberation Sans", sans-serif;font-kerning:none;' fill="none" stroke="#000" stroke-width="1.3">R</text>
<text x="238.68" y="2104.30" font-size="26.74" textLength="14.77" lengthAdjust="spacingAndGlyphs" style='font-family:"Liberation Sans", sans-serif;font-kerning:none;' fill="none" stroke="#000" stroke-width="1.3">E</text>
<text x="258.35" y="2104.30" font-size="26.74" textLength="17.91" lengthAdjust="spacingAndGlyphs" style='font-family:"Liberation Sans", sans-serif;font-kerning:none;' fill="none" stroke="#000" stroke-width="1.3">A</text>
<text x="282.59" y="2104.30" font-size="26.74" textLength="13.43" lengthAdjust="spacingAndGlyphs" style='font-family:"Liberation Sans", sans-serif;font-kerning:none;' fill="none" stroke="#000" stroke-width="1.3">S</text>
<line x1="66.00" y1="2143.77" x2="457.40" y2="2143.77" stroke="#767676" stroke-width="1.80" />
<text x="-2.12" y="0" font-size="25.87" textLength="134.77" lengthAdjust="spacing" transform="translate(75.90 2137.20) scale(0.7200 1)" style='font-family:"Liberation Sans", sans-serif;font-kerning:none;' fill="#000" >DRIVEWAY</text>
<text x="-0.98" y="0" font-size="25.87" textLength="149.43" lengthAdjust="spacing" transform="translate(347.20 2137.20) scale(0.7200 1)" style='font-family:"Liberation Sans", sans-serif;font-kerning:none;' fill="#000" >350&#160;SQ.&#160;FT.</text>
<line x1="66.00" y1="2175.04" x2="457.40" y2="2175.04" stroke="#767676" stroke-width="1.80" />
<text x="-0.05" y="0" font-size="25.87" textLength="143.68" lengthAdjust="spacing" transform="translate(75.90 2168.47) scale(0.7200 1)" style='font-family:"Liberation Sans", sans-serif;font-kerning:none;' fill="#000" >APPROACH</text>
<text x="-1.97" y="0" font-size="25.87" textLength="149.72" lengthAdjust="spacing" transform="translate(347.70 2168.47) scale(0.7200 1)" style='font-family:"Liberation Sans", sans-serif;font-kerning:none;' fill="#000" >192&#160;SQ.&#160;FT.</text>
<line x1="66.00" y1="2206.31" x2="457.40" y2="2206.31" stroke="#767676" stroke-width="1.80" />
<text x="-2.12" y="0" font-size="25.87" textLength="152.43" lengthAdjust="spacing" transform="translate(75.90 2199.74) scale(0.7200 1)" style='font-family:"Liberation Sans", sans-serif;font-kerning:none;' fill="#000" >LEAD&#160;WALK</text>
<text x="-1.29" y="0" font-size="25.87" textLength="133.79" lengthAdjust="spacing" transform="translate(358.70 2199.74) scale(0.7200 1)" style='font-family:"Liberation Sans", sans-serif;font-kerning:none;' fill="#000" >22&#160;SQ.&#160;FT.</text>
<line x1="66.00" y1="2237.58" x2="457.40" y2="2237.58" stroke="#767676" stroke-width="1.80" />
<text x="-2.12" y="0" font-size="25.87" textLength="180.21" lengthAdjust="spacing" transform="translate(75.90 2231.01) scale(0.7200 1)" style='font-family:"Liberation Sans", sans-serif;font-kerning:none;' fill="#000" >PUBLIC&#160;WALK</text>
<text x="-1.97" y="0" font-size="25.87" textLength="148.89" lengthAdjust="spacing" transform="translate(348.30 2231.01) scale(0.7200 1)" style='font-family:"Liberation Sans", sans-serif;font-kerning:none;' fill="#000" >120&#160;SQ.&#160;FT.</text>
<line x1="66.00" y1="2268.85" x2="457.40" y2="2268.85" stroke="#767676" stroke-width="1.80" />
<text x="-2.12" y="0" font-size="25.87" textLength="76.42" lengthAdjust="spacing" transform="translate(75.90 2262.28) scale(0.7200 1)" style='font-family:"Liberation Sans", sans-serif;font-kerning:none;' fill="#000" >PATIO</text>
<text x="-2.12" y="0" font-size="25.87" textLength="45.51" lengthAdjust="spacing" transform="translate(421.20 2262.28) scale(0.7200 1)" style='font-family:"Liberation Sans", sans-serif;font-kerning:none;' fill="#000" >N/A</text>
<line x1="66.00" y1="2300.12" x2="457.40" y2="2300.12" stroke="#767676" stroke-width="1.80" />
<text x="-2.12" y="0" font-size="25.87" textLength="152.48" lengthAdjust="spacing" transform="translate(75.90 2293.55) scale(0.7200 1)" style='font-family:"Liberation Sans", sans-serif;font-kerning:none;' fill="#000" >HVAC&#160;PADS</text>
<text x="-1.97" y="0" font-size="25.87" textLength="131.41" lengthAdjust="spacing" transform="translate(360.90 2293.55) scale(0.7200 1)" style='font-family:"Liberation Sans", sans-serif;font-kerning:none;' fill="#000" >16&#160;SQ.&#160;FT.</text>
<line x1="66.00" y1="2331.39" x2="457.40" y2="2331.39" stroke="#767676" stroke-width="1.80" />
<text x="-0.57" y="0" font-size="25.87" textLength="80.18" lengthAdjust="spacing" transform="translate(75.90 2324.82) scale(0.7200 1)" style='font-family:"Liberation Sans", sans-serif;font-kerning:none;' fill="#000" >TOTAL</text>
<text x="-1.32" y="0" font-size="25.87" textLength="150.88" lengthAdjust="spacing" transform="translate(346.40 2324.82) scale(0.7200 1)" style='font-family:"Liberation Sans", sans-serif;font-kerning:none;' fill="#000" >700&#160;SQ.&#160;FT.</text>
<line x1="66.00" y1="2362.66" x2="457.40" y2="2362.66" stroke="#767676" stroke-width="1.80" />
<line x1="66.00" y1="2393.93" x2="457.40" y2="2393.93" stroke="#767676" stroke-width="1.80" />
<text x="-2.12" y="0" font-size="25.87" textLength="152.55" lengthAdjust="spacing" transform="translate(75.90 2387.36) scale(0.7200 1)" style='font-family:"Liberation Sans", sans-serif;font-kerning:none;' fill="#000" >FRONT&#160;SOD</text>
<text x="-1.97" y="0" font-size="25.87" textLength="149.73" lengthAdjust="spacing" transform="translate(347.70 2387.36) scale(0.7200 1)" style='font-family:"Liberation Sans", sans-serif;font-kerning:none;' fill="#000" >168SQ.&#160;YD.</text>
<line x1="66.00" y1="2425.20" x2="457.40" y2="2425.20" stroke="#767676" stroke-width="1.80" />
<text x="-2.12" y="0" font-size="25.87" textLength="134.34" lengthAdjust="spacing" transform="translate(75.90 2418.63) scale(0.7200 1)" style='font-family:"Liberation Sans", sans-serif;font-kerning:none;' fill="#000" >REAR&#160;SOD</text>
<text x="-1.97" y="0" font-size="25.87" textLength="149.73" lengthAdjust="spacing" transform="translate(347.70 2418.63) scale(0.7200 1)" style='font-family:"Liberation Sans", sans-serif;font-kerning:none;' fill="#000" >143SQ.&#160;YD.</text>
<line x1="66.00" y1="2456.47" x2="457.40" y2="2456.47" stroke="#767676" stroke-width="1.80" />
<line x1="66.00" y1="2487.74" x2="457.40" y2="2487.74" stroke="#767676" stroke-width="1.80" />
<text x="-0.57" y="0" font-size="25.87" textLength="173.77" lengthAdjust="spacing" transform="translate(75.90 2481.17) scale(0.7200 1)" style='font-family:"Liberation Sans", sans-serif;font-kerning:none;' fill="#000" >TOTAL&#160;FENCE</text>
<text x="-1.97" y="0" font-size="25.87" textLength="148.89" lengthAdjust="spacing" transform="translate(348.30 2481.17) scale(0.7200 1)" style='font-family:"Liberation Sans", sans-serif;font-kerning:none;' fill="#000" >117&#160;&#160;LN.&#160;FT.</text>
<line x1="66.00" y1="2519.01" x2="457.40" y2="2519.01" stroke="#767676" stroke-width="1.80" />
<line x1="66.00" y1="2550.28" x2="457.40" y2="2550.28" stroke="#767676" stroke-width="1.80" />
<text x="-0.05" y="0" font-size="25.87" textLength="266.44" lengthAdjust="spacing" transform="translate(75.90 2543.71) scale(0.7200 1)" style='font-family:"Liberation Sans", sans-serif;font-kerning:none;' fill="#000" >AVERAGE&#160;EXPOSURE</text>
<text x="-1.29" y="0" font-size="25.87" textLength="41.14" lengthAdjust="spacing" transform="translate(424.50 2543.71) scale(0.7200 1)" style='font-family:"Liberation Sans", sans-serif;font-kerning:none;' fill="#000" >22"</text>
<line x1="66.00" y1="2581.55" x2="457.40" y2="2581.55" stroke="#767676" stroke-width="1.80" />
<text x="-2.12" y="0" font-size="25.87" textLength="171.43" lengthAdjust="spacing" transform="translate(75.90 2574.98) scale(0.7200 1)" style='font-family:"Liberation Sans", sans-serif;font-kerning:none;' fill="#000" >DRIVE&#160;SLOPE</text>
<text x="-1.97" y="0" font-size="25.87" textLength="78.99" lengthAdjust="spacing" transform="translate(397.60 2574.98) scale(0.7200 1)" style='font-family:"Liberation Sans", sans-serif;font-kerning:none;' fill="#000" >10.5%</text>
<line x1="66.00" y1="2612.82" x2="457.40" y2="2612.82" stroke="#767676" stroke-width="1.80" />
<text x="-2.38" y="0" font-size="25.87" textLength="313.34" lengthAdjust="spacing" transform="translate(75.90 2606.25) scale(0.7200 1)" style='font-family:"Liberation Sans", sans-serif;font-kerning:none;' fill="#000" >IMPERVIOUS&#160;COVERAGE</text>
<text x="-1.29" y="0" font-size="25.87" textLength="173.63" lengthAdjust="spacing" transform="translate(330.00 2606.25) scale(0.7200 1)" style='font-family:"Liberation Sans", sans-serif;font-kerning:none;' fill="#000" >2,880&#160;SQ.&#160;FT.</text>
<line x1="66.00" y1="2644.09" x2="457.40" y2="2644.09" stroke="#767676" stroke-width="1.80" />
<text x="-2.38" y="0" font-size="25.87" textLength="342.75" lengthAdjust="spacing" transform="translate(75.90 2637.52) scale(0.7200 1)" style='font-family:"Liberation Sans", sans-serif;font-kerning:none;' fill="#000" >IMPERVIOUS&#160;COVERAGE&#160;%</text>
<text x="-1.03" y="0" font-size="25.87" textLength="79.59" lengthAdjust="spacing" transform="translate(396.50 2637.52) scale(0.7200 1)" style='font-family:"Liberation Sans", sans-serif;font-kerning:none;' fill="#000" >52.2%</text>
<line x1="66.00" y1="2675.36" x2="457.40" y2="2675.36" stroke="#767676" stroke-width="1.80" />
<text x="-1.16" y="0" font-size="25.87" textLength="142.74" lengthAdjust="spacing" transform="translate(75.90 2668.79) scale(0.7200 1)" style='font-family:"Liberation Sans", sans-serif;font-kerning:none;' fill="#000" >SLAB&#160;AREA</text>
<text x="-1.29" y="0" font-size="25.87" textLength="173.63" lengthAdjust="spacing" transform="translate(330.00 2668.79) scale(0.7200 1)" style='font-family:"Liberation Sans", sans-serif;font-kerning:none;' fill="#000" >2,484&#160;SQ.&#160;FT.</text>
<line x1="66.00" y1="2706.63" x2="457.40" y2="2706.63" stroke="#767676" stroke-width="1.80" />
<text x="-2.12" y="0" font-size="25.87" textLength="125.50" lengthAdjust="spacing" transform="translate(75.90 2700.06) scale(0.7200 1)" style='font-family:"Liberation Sans", sans-serif;font-kerning:none;' fill="#000" >LOT&#160;AREA</text>
<text x="-1.03" y="0" font-size="25.87" textLength="173.37" lengthAdjust="spacing" transform="translate(330.00 2700.06) scale(0.7200 1)" style='font-family:"Liberation Sans", sans-serif;font-kerning:none;' fill="#000" >5,500&#160;SQ.&#160;FT.</text>
<text x="654.01" y="2422.10" font-size="25.65" textLength="194.65" lengthAdjust="spacingAndGlyphs" style='font-family:"Liberation Serif", serif;font-kerning:none;font-style:italic;font-weight:bold;' fill="#000" >SITE&#160;&#160;PLAN&#160;&#160;OF</text>
<text x="595.94" y="2449.40" font-size="25.65" textLength="312.44" lengthAdjust="spacingAndGlyphs" style='font-family:"Liberation Serif", serif;font-kerning:none;font-style:italic;font-weight:bold;' fill="#000" >2525&#160;&#160;HERITANCE&#160;&#160;PASS</text>
<text x="617.40" y="2475.40" font-size="25.65" textLength="266.78" lengthAdjust="spacingAndGlyphs" style='font-family:"Liberation Serif", serif;font-kerning:none;font-style:italic;font-weight:bold;' fill="#000" >LOT&#160;&#160;414,&#160;&#160;BLOCK&#160;&#160;17</text>
<text x="474.43" y="2509.50" font-size="35.57" textLength="561.49" lengthAdjust="spacingAndGlyphs" style='font-family:"Liberation Serif", serif;font-kerning:none;font-style:italic;' fill="#000" stroke="#000" stroke-width="0.25" >HIDDENBROOKE&#160;&#160;SUBDIVISION,</text>
<text x="682.79" y="2544.40" font-size="35.57" textLength="134.87" lengthAdjust="spacingAndGlyphs" style='font-family:"Liberation Serif", serif;font-kerning:none;font-style:italic;' fill="#000" stroke="#000" stroke-width="0.25" >UNIT&#160;&#160;3</text>
<text x="638.80" y="2573.70" font-size="26.26" textLength="221.50" lengthAdjust="spacingAndGlyphs" style='font-family:"Liberation Serif", serif;font-kerning:none;font-style:italic;font-weight:bold;' fill="#000" >CITY&#160;&#160;OF&#160;&#160;SEGUIN</text>
<text x="562.61" y="2599.40" font-size="26.26" textLength="377.78" lengthAdjust="spacingAndGlyphs" style='font-family:"Liberation Serif", serif;font-kerning:none;font-style:italic;font-weight:bold;' fill="#000" >GUADALUPE&#160;&#160;COUNTY,&#160;&#160;TEXAS</text>
<text x="-1.91" y="0" font-size="23.26" textLength="150.76" lengthAdjust="spacing" transform="translate(644.50 2656.70) scale(0.7516 1)" style='font-family:"Liberation Sans", sans-serif;font-kerning:none;' fill="#000" >DRAWN&#160;&#160;BY:</text>
<text x="-1.91" y="0" font-size="23.26" textLength="45.83" lengthAdjust="spacing" transform="translate(782.90 2656.70) scale(0.9112 1)" style='font-family:"Liberation Sans", sans-serif;font-kerning:none;' fill="#000" >P.K.</text>
<line x1="764.80" y1="2658.50" x2="833.00" y2="2658.50" stroke="#000" stroke-width="1.50" />
<text x="-1.91" y="0" font-size="23.26" textLength="73.27" lengthAdjust="spacing" transform="translate(644.50 2684.80) scale(0.7523 1)" style='font-family:"Liberation Sans", sans-serif;font-kerning:none;' fill="#000" >DATE:</text>
<text x="-1.77" y="0" font-size="23.26" textLength="101.92" lengthAdjust="spacing" transform="translate(756.80 2684.80) scale(1.0321 1)" style='font-family:"Liberation Sans", sans-serif;font-kerning:none;' fill="#000" >1/2/2026</text>
<line x1="707.90" y1="2686.50" x2="868.30" y2="2686.50" stroke="#000" stroke-width="1.50" />
<line x1="1055.00" y1="2606.40" x2="1633.00" y2="2606.40" stroke="#000" stroke-width="3.40" />
<path d="M1118.08 2680.42 A110.90 110.90 0 1 1 1274.92 2680.42 L1259.15 2664.65 A88.60 88.60 0 1 0 1133.85 2664.65 Z" fill="#d05830" stroke="#000" stroke-width="1.40"/>
<path d="M1262.19 2691.10 A110.70 110.70 0 0 1 1130.81 2691.10 L1144.46 2672.59 A87.70 87.70 0 0 0 1248.54 2672.59 Z" fill="#231f20" stroke="#231f20" stroke-width="0.80"/>
<circle cx="1196.9" cy="2600.9" r="62.9" fill="none" stroke="#231f20" stroke-width="17.6"/>
<path d="M1191.1 2734 L1191.1 2465 A5.4 5.4 0 0 1 1201.9 2465 L1201.9 2734 Z" fill="#231f20"/>
<path d="M1182.06 2556.28 L1210.13 2556.28 L1225.41 2571.57 L1225.41 2582.34 L1209.62 2582.34 L1209.62 2579.09 L1202.61 2572.07 L1183.81 2572.07 L1183.81 2586.60 L1189.32 2591.87 L1215.64 2591.87 L1225.41 2601.63 L1225.41 2633.22 L1210.13 2645.75 L1183.06 2645.75 L1168.27 2630.96 L1168.27 2619.19 L1183.56 2619.19 L1183.56 2624.70 L1189.07 2630.21 L1203.61 2630.21 L1209.62 2624.20 L1209.62 2607.66 L1183.56 2607.66 L1168.27 2592.62 L1168.27 2570.06 Z" stroke="#000" stroke-width="1.10" fill="#d05830" stroke-linejoin="miter" />
<rect x="1191.10" y="2572.10" width="10.80" height="19.80" stroke="#000" stroke-width="0.00" fill="#231f20"/>
<rect x="1191.10" y="2607.70" width="10.80" height="22.50" stroke="#000" stroke-width="0.00" fill="#231f20"/>
<line x1="1196.40" y1="2556.30" x2="1196.40" y2="2572.10" stroke="#231f20" stroke-width="2.50" />
<text x="-1.24" y="0" font-size="27.47" textLength="140.17" lengthAdjust="spacing" transform="translate(1352.30 2565.00) scale(0.9328 1)" style='font-family:"Liberation Sans", sans-serif;font-kerning:none;' fill="#000" stroke="#fff" stroke-width="0.47" >SINCLAIR</text><text x="-2.25" y="0" font-size="27.47" textLength="79.05" lengthAdjust="spacing" transform="translate(1500.00 2565.00) scale(1.0084 1)" style='font-family:"Liberation Sans", sans-serif;font-kerning:none;' fill="#000" stroke="#fff" stroke-width="0.47" >LAND</text>
<text x="-1.31" y="0" font-size="29.07" textLength="197.09" lengthAdjust="spacing" transform="translate(1348.90 2594.50) scale(0.8764 1)" style='font-family:"Liberation Sans", sans-serif;font-kerning:none;' fill="#000" stroke="#fff" stroke-width="0.50" >SURVEYING,</text><text x="-2.67" y="0" font-size="29.07" textLength="64.24" lengthAdjust="spacing" transform="translate(1538.60 2594.50) scale(0.9062 1)" style='font-family:"Liberation Sans", sans-serif;font-kerning:none;' fill="#000" stroke="#fff" stroke-width="0.50" >INC.</text>
<text x="-0.82" y="0" font-size="21.51" textLength="50.78" lengthAdjust="spacing" transform="translate(1369.30 2630.20) scale(0.9530 1)" style='font-family:"Liberation Sans", sans-serif;font-kerning:none;' fill="#000" >3411</text><text x="-1.76" y="0" font-size="21.51" textLength="76.54" lengthAdjust="spacing" transform="translate(1433.00 2630.20) scale(0.7518 1)" style='font-family:"Liberation Sans", sans-serif;font-kerning:none;' fill="#000" >MAGIC</text><text x="-1.76" y="0" font-size="21.51" textLength="71.77" lengthAdjust="spacing" transform="translate(1503.40 2630.20) scale(0.7905 1)" style='font-family:"Liberation Sans", sans-serif;font-kerning:none;' fill="#000" >DRIVE</text>
<text x="-0.97" y="0" font-size="21.51" textLength="47.24" lengthAdjust="spacing" transform="translate(1320.00 2651.80) scale(0.8017 1)" style='font-family:"Liberation Sans", sans-serif;font-kerning:none;' fill="#000" >SAN</text><text x="-0.04" y="0" font-size="21.51" textLength="114.13" lengthAdjust="spacing" transform="translate(1369.30 2651.80) scale(0.7596 1)" style='font-family:"Liberation Sans", sans-serif;font-kerning:none;' fill="#000" >ANTONIO,</text><text x="-0.47" y="0" font-size="21.51" textLength="76.56" lengthAdjust="spacing" transform="translate(1470.50 2651.80) scale(0.7856 1)" style='font-family:"Liberation Sans", sans-serif;font-kerning:none;' fill="#000" >TEXAS</text><text x="-1.10" y="0" font-size="21.51" textLength="65.84" lengthAdjust="spacing" transform="translate(1544.30 2651.80) scale(0.9806 1)" style='font-family:"Liberation Sans", sans-serif;font-kerning:none;' fill="#000" >78229</text>
<text x="-1.08" y="0" font-size="21.51" textLength="160.13" lengthAdjust="spacing" transform="translate(1388.20 2673.40) scale(0.9486 1)" style='font-family:"Liberation Sans", sans-serif;font-kerning:none;' fill="#000" >210–341–4518</text>
<text x="-0.47" y="0" font-size="21.51" textLength="90.03" lengthAdjust="spacing" transform="translate(1328.40 2691.60) scale(0.7960 1)" style='font-family:"Liberation Sans", sans-serif;font-kerning:none;' fill="#000" >TBPELS</text><text x="-1.76" y="0" font-size="21.51" textLength="57.09" lengthAdjust="spacing" transform="translate(1412.50 2691.60) scale(0.7841 1)" style='font-family:"Liberation Sans", sans-serif;font-kerning:none;' fill="#000" >FIRM</text><text x="-1.76" y="0" font-size="21.51" textLength="149.01" lengthAdjust="spacing" transform="translate(1468.20 2691.60) scale(0.9002 1)" style='font-family:"Liberation Sans", sans-serif;font-kerning:none;' fill="#000" >NO.10089000</text>
<text x="-0.34" y="0" font-size="21.51" textLength="44.85" lengthAdjust="spacing" transform="translate(1319.30 2715.50) scale(0.8117 1)" style='font-family:"Liberation Sans", sans-serif;font-kerning:none;' fill="#000" >JOB</text><text x="-1.76" y="0" font-size="21.51" textLength="108.23" lengthAdjust="spacing" transform="translate(1370.50 2715.50) scale(0.8256 1)" style='font-family:"Liberation Sans", sans-serif;font-kerning:none;' fill="#000" >NUMBER:</text><text x="-0.97" y="0" font-size="21.51" textLength="147.45" lengthAdjust="spacing" transform="translate(1465.90 2715.50) scale(0.9531 1)" style='font-family:"Liberation Sans", sans-serif;font-kerning:none;' fill="#000" >S–202584911</text>
</svg>
</body></html>
